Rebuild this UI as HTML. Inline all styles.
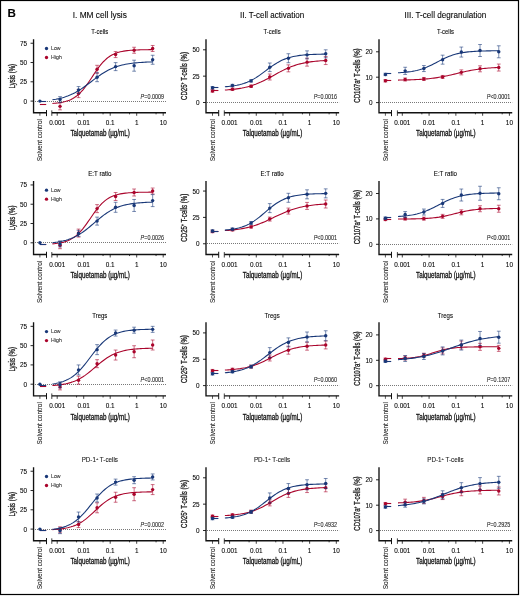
<!DOCTYPE html>
<html><head><meta charset="utf-8"><style>
html,body{margin:0;padding:0;background:#fff;}
body{width:520px;height:596px;overflow:hidden;}
svg{display:block;font-family:"Liberation Sans",sans-serif;will-change:transform;}
svg text{stroke:#222;stroke-width:0.1px;}
svg text.h{stroke-width:0.3px;}
svg text.l{stroke-width:0.08px;}
</style></head><body>
<svg width="520" height="596" viewBox="0 0 520 596">
<rect x="0" y="0" width="520" height="596" fill="#fff"/>
<rect x="0.5" y="0.5" width="518" height="594" fill="none" stroke="#000" stroke-width="1.2"/>
<text x="7.6" y="17.1" font-size="11.6" font-weight="bold" fill="#000">B</text>
<text x="99.8" y="17.7" font-size="8.3" text-anchor="middle" textLength="54.2" lengthAdjust="spacingAndGlyphs" >I. MM cell lysis</text>
<text x="272.1" y="17.7" font-size="8.3" text-anchor="middle" textLength="64.2" lengthAdjust="spacingAndGlyphs" >II. T-cell activation</text>
<text x="445.4" y="17.7" font-size="8.3" text-anchor="middle" textLength="81.8" lengthAdjust="spacingAndGlyphs" >III. T-cell degranulation</text>
<text x="99.8" y="34.4" font-size="6.5" text-anchor="middle" textLength="17" lengthAdjust="spacingAndGlyphs" >T-cells</text>
<line x1="35" y1="101.5" x2="166" y2="101.5" stroke="#555" stroke-width="0.8" stroke-dasharray="1 1"/>
<path d="M33.55 39.2V112.75H46.5" fill="none" stroke="#111" stroke-width="1.35"/>
<line x1="46.5" y1="110.05" x2="46.5" y2="116.15" stroke="#111" stroke-width="1"/>
<line x1="39.9" y1="112.75" x2="39.9" y2="115.75" stroke="#111" stroke-width="0.7"/>
<line x1="51.8" y1="112.75" x2="166" y2="112.75" stroke="#111" stroke-width="1.35"/>
<line x1="51.8" y1="110.35" x2="51.8" y2="115.85" stroke="#111" stroke-width="0.8"/>
<line x1="57.2" y1="112.75" x2="57.2" y2="115.75" stroke="#111" stroke-width="0.8"/>
<text x="57.2" y="124.9" font-size="6.4" text-anchor="middle" >0.001</text>
<line x1="76.55" y1="112.75" x2="76.55" y2="114.35" stroke="#111" stroke-width="0.8"/>
<line x1="83.7" y1="112.75" x2="83.7" y2="115.75" stroke="#111" stroke-width="0.8"/>
<text x="83.7" y="124.9" font-size="6.4" text-anchor="middle" >0.01</text>
<line x1="103.05" y1="112.75" x2="103.05" y2="114.35" stroke="#111" stroke-width="0.8"/>
<line x1="110.2" y1="112.75" x2="110.2" y2="115.75" stroke="#111" stroke-width="0.8"/>
<text x="110.2" y="124.9" font-size="6.4" text-anchor="middle" >0.1</text>
<line x1="129.55" y1="112.75" x2="129.55" y2="114.35" stroke="#111" stroke-width="0.8"/>
<line x1="136.7" y1="112.75" x2="136.7" y2="115.75" stroke="#111" stroke-width="0.8"/>
<text x="136.7" y="124.9" font-size="6.4" text-anchor="middle" >1</text>
<line x1="156.05" y1="112.75" x2="156.05" y2="114.35" stroke="#111" stroke-width="0.8"/>
<line x1="163.2" y1="112.75" x2="163.2" y2="115.75" stroke="#111" stroke-width="0.8"/>
<text x="163.2" y="124.9" font-size="6.4" text-anchor="middle" >10</text>
<line x1="30.55" y1="101.1" x2="33.55" y2="101.1" stroke="#111" stroke-width="0.9"/>
<text x="27.15" y="103.6" font-size="6.4" text-anchor="end" >0</text>
<line x1="30.55" y1="81.81" x2="33.55" y2="81.81" stroke="#111" stroke-width="0.9"/>
<text x="27.15" y="84.31" font-size="6.4" text-anchor="end" >25</text>
<line x1="30.55" y1="62.52" x2="33.55" y2="62.52" stroke="#111" stroke-width="0.9"/>
<text x="27.15" y="65.03" font-size="6.4" text-anchor="end" >50</text>
<line x1="30.55" y1="43.24" x2="33.55" y2="43.24" stroke="#111" stroke-width="0.9"/>
<text x="27.15" y="45.74" font-size="6.4" text-anchor="end" >75</text>
<text transform="translate(15 76.2) rotate(-90)" font-size="8.8" class="h" text-anchor="middle" textLength="24.6" lengthAdjust="spacingAndGlyphs" fill="#222">Lysis (%)</text>
<text transform="translate(42.1 140.2) rotate(-90)" font-size="6.6" text-anchor="middle" textLength="42.2" lengthAdjust="spacingAndGlyphs" fill="#222">Solvent control</text>
<text x="100.2" y="136.4" font-size="8.3" text-anchor="middle" textLength="59.5" lengthAdjust="spacingAndGlyphs" class="h">Talquetamab (µg/mL)</text>
<text x="164" y="98.7" font-size="6.5" class="l" text-anchor="end" textLength="23.4" lengthAdjust="spacingAndGlyphs" fill="#222"><tspan font-style="italic">P</tspan>=0.0009</text>
<circle cx="46.5" cy="48.5" r="1.65" fill="#193878"/>
<circle cx="46.5" cy="57.5" r="1.65" fill="#aa052c"/>
<text x="51.1" y="49.9" font-size="5.4" textLength="9.5" lengthAdjust="spacingAndGlyphs" fill="#333" class="l">Low</text>
<text x="51.1" y="58.9" font-size="5.4" textLength="10.8" lengthAdjust="spacingAndGlyphs" fill="#333" class="l">High</text>
<polyline points="52.4,103.45 54.1,103.32 55.8,103.17 57.5,102.98 59.2,102.76 60.9,102.49 62.6,102.17 64.29,101.79 65.99,101.33 67.69,100.79 69.39,100.15 71.09,99.4 72.79,98.52 74.49,97.5 76.19,96.32 77.89,94.96 79.59,93.43 81.29,91.7 82.99,89.79 84.69,87.7 86.38,85.44 88.08,83.04 89.78,80.54 91.48,77.97 93.18,75.38 94.88,72.82 96.58,70.33 98.28,67.94 99.98,65.7 101.68,63.63 103.38,61.74 105.08,60.04 106.78,58.53 108.47,57.19 110.17,56.03 111.87,55.03 113.57,54.16 115.27,53.42 116.97,52.8 118.67,52.27 120.37,51.82 122.07,51.45 123.77,51.13 125.47,50.87 127.17,50.65 128.87,50.47 130.56,50.32 132.26,50.19 133.96,50.09 135.66,50 137.36,49.93 139.06,49.87 140.76,49.82 142.46,49.78 144.16,49.74 145.86,49.72 147.56,49.69 149.26,49.67 150.96,49.66 152.65,49.64" fill="none" stroke="#aa052c" stroke-width="1.1"/>
<line x1="39.9" y1="104.5" x2="46.2" y2="104.5" stroke="#aa052c" stroke-width="1.1"/>
<path d="M60.04 102.85V109.85M58.14 102.85H61.94M58.14 109.85H61.94" stroke="#aa052c" stroke-width="0.8" fill="none" opacity="0.72"/>
<circle cx="60.04" cy="106.35" r="1.72" fill="#aa052c"/>
<path d="M78.56 89.62V97.62M76.66 89.62H80.46M76.66 97.62H80.46" stroke="#aa052c" stroke-width="0.8" fill="none" opacity="0.72"/>
<circle cx="78.56" cy="93.62" r="1.72" fill="#aa052c"/>
<path d="M97.09 65.31V73.31M95.19 65.31H98.99M95.19 73.31H98.99" stroke="#aa052c" stroke-width="0.8" fill="none" opacity="0.72"/>
<circle cx="97.09" cy="69.31" r="1.72" fill="#aa052c"/>
<path d="M115.61 51.58V57.58M113.71 51.58H117.51M113.71 57.58H117.51" stroke="#aa052c" stroke-width="0.8" fill="none" opacity="0.72"/>
<circle cx="115.61" cy="54.58" r="1.72" fill="#aa052c"/>
<path d="M134.13 47.26V53.26M132.23 47.26H136.03M132.23 53.26H136.03" stroke="#aa052c" stroke-width="0.8" fill="none" opacity="0.72"/>
<circle cx="134.13" cy="50.26" r="1.72" fill="#aa052c"/>
<path d="M152.65 45.48V51.48M150.75 45.48H154.55M150.75 51.48H154.55" stroke="#aa052c" stroke-width="0.8" fill="none" opacity="0.72"/>
<circle cx="152.65" cy="48.48" r="1.72" fill="#aa052c"/>
<polyline points="52.4,99.79 54.1,99.52 55.8,99.23 57.5,98.9 59.2,98.53 60.9,98.12 62.6,97.66 64.29,97.16 65.99,96.6 67.69,95.99 69.39,95.31 71.09,94.58 72.79,93.79 74.49,92.93 76.19,92.01 77.89,91.02 79.59,89.98 81.29,88.88 82.99,87.72 84.69,86.52 86.38,85.29 88.08,84.02 89.78,82.74 91.48,81.45 93.18,80.15 94.88,78.88 96.58,77.62 98.28,76.4 99.98,75.21 101.68,74.08 103.38,72.99 105.08,71.97 106.78,71.01 108.47,70.11 110.17,69.27 111.87,68.5 113.57,67.79 115.27,67.14 116.97,66.54 118.67,66.01 120.37,65.52 122.07,65.08 123.77,64.68 125.47,64.33 127.17,64.01 128.87,63.73 130.56,63.47 132.26,63.25 133.96,63.04 135.66,62.87 137.36,62.71 139.06,62.57 140.76,62.44 142.46,62.33 144.16,62.24 145.86,62.15 147.56,62.07 149.26,62.01 150.96,61.95 152.65,61.9" fill="none" stroke="#193878" stroke-width="1.1"/>
<line x1="39.9" y1="101.5" x2="46.2" y2="101.5" stroke="#193878" stroke-width="1.1"/>
<circle cx="39.9" cy="101.1" r="1.72" fill="#193878"/>
<path d="M60.04 96.66V102.46M58.14 96.66H61.94M58.14 102.46H61.94" stroke="#193878" stroke-width="0.8" fill="none" opacity="0.72"/>
<circle cx="60.04" cy="99.56" r="1.72" fill="#193878"/>
<path d="M78.56 86.57V93.57M76.66 86.57H80.46M76.66 93.57H80.46" stroke="#193878" stroke-width="0.8" fill="none" opacity="0.72"/>
<circle cx="78.56" cy="90.07" r="1.72" fill="#193878"/>
<path d="M97.09 72.68V81.68M95.19 72.68H98.99M95.19 81.68H98.99" stroke="#193878" stroke-width="0.8" fill="none" opacity="0.72"/>
<circle cx="97.09" cy="77.18" r="1.72" fill="#193878"/>
<path d="M115.61 62.61V70.61M113.71 62.61H117.51M113.71 70.61H117.51" stroke="#193878" stroke-width="0.8" fill="none" opacity="0.72"/>
<circle cx="115.61" cy="66.61" r="1.72" fill="#193878"/>
<path d="M134.13 60.19V71.19M132.23 60.19H136.03M132.23 71.19H136.03" stroke="#193878" stroke-width="0.8" fill="none" opacity="0.72"/>
<circle cx="134.13" cy="65.69" r="1.72" fill="#193878"/>
<path d="M152.65 55.25V64.25M150.75 55.25H154.55M150.75 64.25H154.55" stroke="#193878" stroke-width="0.8" fill="none" opacity="0.72"/>
<circle cx="152.65" cy="59.75" r="1.72" fill="#193878"/>
<text x="272.1" y="34.4" font-size="6.5" text-anchor="middle" textLength="17" lengthAdjust="spacingAndGlyphs" >T-cells</text>
<line x1="207" y1="102.5" x2="339.12" y2="102.5" stroke="#555" stroke-width="0.8" stroke-dasharray="1 1"/>
<path d="M206 39.2V112.75H218.7" fill="none" stroke="#111" stroke-width="1.35"/>
<line x1="218.7" y1="110.05" x2="218.7" y2="116.15" stroke="#111" stroke-width="1"/>
<line x1="212.5" y1="112.75" x2="212.5" y2="115.75" stroke="#111" stroke-width="0.7"/>
<line x1="224.3" y1="112.75" x2="339.12" y2="112.75" stroke="#111" stroke-width="1.35"/>
<line x1="224.3" y1="110.35" x2="224.3" y2="115.85" stroke="#111" stroke-width="0.8"/>
<line x1="229.6" y1="112.75" x2="229.6" y2="115.75" stroke="#111" stroke-width="0.8"/>
<text x="229.6" y="124.9" font-size="6.4" text-anchor="middle" >0.001</text>
<line x1="249.08" y1="112.75" x2="249.08" y2="114.35" stroke="#111" stroke-width="0.8"/>
<line x1="256.28" y1="112.75" x2="256.28" y2="115.75" stroke="#111" stroke-width="0.8"/>
<text x="256.28" y="124.9" font-size="6.4" text-anchor="middle" >0.01</text>
<line x1="275.76" y1="112.75" x2="275.76" y2="114.35" stroke="#111" stroke-width="0.8"/>
<line x1="282.96" y1="112.75" x2="282.96" y2="115.75" stroke="#111" stroke-width="0.8"/>
<text x="282.96" y="124.9" font-size="6.4" text-anchor="middle" >0.1</text>
<line x1="302.44" y1="112.75" x2="302.44" y2="114.35" stroke="#111" stroke-width="0.8"/>
<line x1="309.64" y1="112.75" x2="309.64" y2="115.75" stroke="#111" stroke-width="0.8"/>
<text x="309.64" y="124.9" font-size="6.4" text-anchor="middle" >1</text>
<line x1="329.12" y1="112.75" x2="329.12" y2="114.35" stroke="#111" stroke-width="0.8"/>
<line x1="336.32" y1="112.75" x2="336.32" y2="115.75" stroke="#111" stroke-width="0.8"/>
<text x="336.32" y="124.9" font-size="6.4" text-anchor="middle" >10</text>
<line x1="203" y1="102.5" x2="206" y2="102.5" stroke="#111" stroke-width="0.9"/>
<text x="199.6" y="105" font-size="6.4" text-anchor="end" >0</text>
<line x1="203" y1="76.15" x2="206" y2="76.15" stroke="#111" stroke-width="0.9"/>
<text x="199.6" y="78.65" font-size="6.4" text-anchor="end" >25</text>
<line x1="203" y1="49.8" x2="206" y2="49.8" stroke="#111" stroke-width="0.9"/>
<text x="199.6" y="52.3" font-size="6.4" text-anchor="end" >50</text>
<text transform="translate(187 76) rotate(-90)" font-size="8.6" class="h" text-anchor="middle" textLength="48" lengthAdjust="spacingAndGlyphs" fill="#222">CD25<tspan dy="-2.6" font-size="4.6">+</tspan><tspan dy="2.6"> T-cells (%)</tspan></text>
<text transform="translate(214.7 140.2) rotate(-90)" font-size="6.6" text-anchor="middle" textLength="42.2" lengthAdjust="spacingAndGlyphs" fill="#222">Solvent control</text>
<text x="272.5" y="136.4" font-size="8.3" text-anchor="middle" textLength="59.5" lengthAdjust="spacingAndGlyphs" class="h">Talquetamab (µg/mL)</text>
<text x="337.12" y="98.7" font-size="6.5" class="l" text-anchor="end" textLength="23.4" lengthAdjust="spacingAndGlyphs" fill="#222"><tspan font-style="italic">P</tspan>=0.0016</text>
<polyline points="224.9,90.06 226.61,89.95 228.32,89.82 230.03,89.67 231.73,89.5 233.44,89.32 235.15,89.12 236.86,88.89 238.57,88.64 240.28,88.36 241.99,88.05 243.69,87.7 245.4,87.33 247.11,86.91 248.82,86.46 250.53,85.97 252.24,85.43 253.94,84.85 255.65,84.23 257.36,83.56 259.07,82.85 260.78,82.1 262.49,81.3 264.2,80.47 265.9,79.6 267.61,78.71 269.32,77.79 271.03,76.85 272.74,75.9 274.45,74.95 276.16,74 277.86,73.07 279.57,72.14 281.28,71.25 282.99,70.38 284.7,69.54 286.41,68.74 288.12,67.98 289.82,67.26 291.53,66.59 293.24,65.96 294.95,65.38 296.66,64.84 298.37,64.34 300.08,63.89 301.78,63.47 303.49,63.09 305.2,62.74 306.91,62.43 308.62,62.15 310.33,61.89 312.03,61.66 313.74,61.45 315.45,61.27 317.16,61.1 318.87,60.95 320.58,60.82 322.29,60.7 323.99,60.6 325.7,60.5" fill="none" stroke="#aa052c" stroke-width="1.1"/>
<line x1="212.5" y1="90.5" x2="218.4" y2="90.5" stroke="#aa052c" stroke-width="1.1"/>
<path d="M212.5 89.71V92.11M210.6 89.71H214.4M210.6 92.11H214.4" stroke="#aa052c" stroke-width="0.8" fill="none" opacity="0.72"/>
<circle cx="212.5" cy="90.91" r="1.72" fill="#aa052c"/>
<path d="M232.46 88.12V90.53M230.56 88.12H234.36M230.56 90.53H234.36" stroke="#aa052c" stroke-width="0.8" fill="none" opacity="0.72"/>
<circle cx="232.46" cy="89.33" r="1.72" fill="#aa052c"/>
<path d="M251.11 85.07V87.47M249.21 85.07H253.01M249.21 87.47H253.01" stroke="#aa052c" stroke-width="0.8" fill="none" opacity="0.72"/>
<circle cx="251.11" cy="86.27" r="1.72" fill="#aa052c"/>
<path d="M269.76 73.99V79.99M267.86 73.99H271.66M267.86 79.99H271.66" stroke="#aa052c" stroke-width="0.8" fill="none" opacity="0.72"/>
<circle cx="269.76" cy="76.99" r="1.72" fill="#aa052c"/>
<path d="M288.41 64.85V71.85M286.51 64.85H290.31M286.51 71.85H290.31" stroke="#aa052c" stroke-width="0.8" fill="none" opacity="0.72"/>
<circle cx="288.41" cy="68.35" r="1.72" fill="#aa052c"/>
<path d="M307.05 58.13V66.13M305.15 58.13H308.95M305.15 66.13H308.95" stroke="#aa052c" stroke-width="0.8" fill="none" opacity="0.72"/>
<circle cx="307.05" cy="62.13" r="1.72" fill="#aa052c"/>
<path d="M325.7 56.55V64.55M323.8 56.55H327.6M323.8 64.55H327.6" stroke="#aa052c" stroke-width="0.8" fill="none" opacity="0.72"/>
<circle cx="325.7" cy="60.55" r="1.72" fill="#aa052c"/>
<polyline points="224.9,86.74 226.61,86.6 228.32,86.45 230.03,86.26 231.73,86.05 233.44,85.81 235.15,85.54 236.86,85.22 238.57,84.86 240.28,84.45 241.99,83.99 243.69,83.47 245.4,82.88 247.11,82.22 248.82,81.5 250.53,80.7 252.24,79.82 253.94,78.87 255.65,77.85 257.36,76.75 259.07,75.6 260.78,74.4 262.49,73.15 264.2,71.88 265.9,70.59 267.61,69.31 269.32,68.04 271.03,66.81 272.74,65.62 274.45,64.48 276.16,63.41 277.86,62.4 279.57,61.47 281.28,60.61 282.99,59.83 284.7,59.13 286.41,58.49 288.12,57.92 289.82,57.42 291.53,56.97 293.24,56.57 294.95,56.22 296.66,55.92 298.37,55.65 300.08,55.42 301.78,55.22 303.49,55.04 305.2,54.89 306.91,54.76 308.62,54.65 310.33,54.55 312.03,54.46 313.74,54.39 315.45,54.33 317.16,54.27 318.87,54.23 320.58,54.19 322.29,54.15 323.99,54.12 325.7,54.1" fill="none" stroke="#193878" stroke-width="1.1"/>
<line x1="212.5" y1="87.5" x2="218.4" y2="87.5" stroke="#193878" stroke-width="1.1"/>
<path d="M212.5 86.54V88.94M210.6 86.54H214.4M210.6 88.94H214.4" stroke="#193878" stroke-width="0.8" fill="none" opacity="0.72"/>
<circle cx="212.5" cy="87.74" r="1.72" fill="#193878"/>
<path d="M232.46 84.33V86.73M230.56 84.33H234.36M230.56 86.73H234.36" stroke="#193878" stroke-width="0.8" fill="none" opacity="0.72"/>
<circle cx="232.46" cy="85.53" r="1.72" fill="#193878"/>
<path d="M251.11 79.69V82.09M249.21 79.69H253.01M249.21 82.09H253.01" stroke="#193878" stroke-width="0.8" fill="none" opacity="0.72"/>
<circle cx="251.11" cy="80.89" r="1.72" fill="#193878"/>
<path d="M269.76 63V71.6M267.86 63H271.66M267.86 71.6H271.66" stroke="#193878" stroke-width="0.8" fill="none" opacity="0.72"/>
<circle cx="269.76" cy="67.3" r="1.72" fill="#193878"/>
<path d="M288.41 53.73V62.73M286.51 53.73H290.31M286.51 62.73H290.31" stroke="#193878" stroke-width="0.8" fill="none" opacity="0.72"/>
<circle cx="288.41" cy="58.23" r="1.72" fill="#193878"/>
<path d="M307.05 50.86V58.86M305.15 50.86H308.95M305.15 58.86H308.95" stroke="#193878" stroke-width="0.8" fill="none" opacity="0.72"/>
<circle cx="307.05" cy="54.86" r="1.72" fill="#193878"/>
<path d="M325.7 49.81V57.81M323.8 49.81H327.6M323.8 57.81H327.6" stroke="#193878" stroke-width="0.8" fill="none" opacity="0.72"/>
<circle cx="325.7" cy="53.81" r="1.72" fill="#193878"/>
<text x="445.4" y="34.4" font-size="6.5" text-anchor="middle" textLength="17" lengthAdjust="spacingAndGlyphs" >T-cells</text>
<line x1="380" y1="102.5" x2="512.22" y2="102.5" stroke="#555" stroke-width="0.8" stroke-dasharray="1 1"/>
<path d="M379 39.2V112.75H391.5" fill="none" stroke="#111" stroke-width="1.35"/>
<line x1="391.5" y1="110.05" x2="391.5" y2="116.15" stroke="#111" stroke-width="1"/>
<line x1="385.4" y1="112.75" x2="385.4" y2="115.75" stroke="#111" stroke-width="0.7"/>
<line x1="397.4" y1="112.75" x2="512.22" y2="112.75" stroke="#111" stroke-width="1.35"/>
<line x1="397.4" y1="110.35" x2="397.4" y2="115.85" stroke="#111" stroke-width="0.8"/>
<line x1="402.3" y1="112.75" x2="402.3" y2="115.75" stroke="#111" stroke-width="0.8"/>
<text x="402.3" y="124.9" font-size="6.4" text-anchor="middle" >0.001</text>
<line x1="421.85" y1="112.75" x2="421.85" y2="114.35" stroke="#111" stroke-width="0.8"/>
<line x1="429.08" y1="112.75" x2="429.08" y2="115.75" stroke="#111" stroke-width="0.8"/>
<text x="429.08" y="124.9" font-size="6.4" text-anchor="middle" >0.01</text>
<line x1="448.63" y1="112.75" x2="448.63" y2="114.35" stroke="#111" stroke-width="0.8"/>
<line x1="455.86" y1="112.75" x2="455.86" y2="115.75" stroke="#111" stroke-width="0.8"/>
<text x="455.86" y="124.9" font-size="6.4" text-anchor="middle" >0.1</text>
<line x1="475.41" y1="112.75" x2="475.41" y2="114.35" stroke="#111" stroke-width="0.8"/>
<line x1="482.64" y1="112.75" x2="482.64" y2="115.75" stroke="#111" stroke-width="0.8"/>
<text x="482.64" y="124.9" font-size="6.4" text-anchor="middle" >1</text>
<line x1="502.19" y1="112.75" x2="502.19" y2="114.35" stroke="#111" stroke-width="0.8"/>
<line x1="509.42" y1="112.75" x2="509.42" y2="115.75" stroke="#111" stroke-width="0.8"/>
<text x="509.42" y="124.9" font-size="6.4" text-anchor="middle" >10</text>
<line x1="376" y1="102.6" x2="379" y2="102.6" stroke="#111" stroke-width="0.9"/>
<text x="372.6" y="105.1" font-size="6.4" text-anchor="end" >0</text>
<line x1="376" y1="77.2" x2="379" y2="77.2" stroke="#111" stroke-width="0.9"/>
<text x="372.6" y="79.7" font-size="6.4" text-anchor="end" >10</text>
<line x1="376" y1="51.8" x2="379" y2="51.8" stroke="#111" stroke-width="0.9"/>
<text x="372.6" y="54.3" font-size="6.4" text-anchor="end" >20</text>
<text transform="translate(360 75.5) rotate(-90)" font-size="8.6" class="h" text-anchor="middle" textLength="54.3" lengthAdjust="spacingAndGlyphs" fill="#222">CD107a<tspan dy="-2.6" font-size="4.6">+</tspan><tspan dy="2.6"> T-cells (%)</tspan></text>
<text transform="translate(387.6 140.2) rotate(-90)" font-size="6.6" text-anchor="middle" textLength="42.2" lengthAdjust="spacingAndGlyphs" fill="#222">Solvent control</text>
<text x="445.8" y="136.4" font-size="8.3" text-anchor="middle" textLength="59.5" lengthAdjust="spacingAndGlyphs" class="h">Talquetamab (µg/mL)</text>
<text x="510.22" y="98.7" font-size="6.5" class="l" text-anchor="end" textLength="23.4" lengthAdjust="spacingAndGlyphs" fill="#222"><tspan font-style="italic">P</tspan><0.0001</text>
<polyline points="398,80.1 399.71,80.07 401.42,80.05 403.12,80.01 404.83,79.98 406.54,79.94 408.25,79.89 409.95,79.84 411.66,79.78 413.37,79.72 415.08,79.65 416.79,79.57 418.49,79.48 420.2,79.38 421.91,79.27 423.62,79.14 425.33,79.01 427.03,78.86 428.74,78.69 430.45,78.51 432.16,78.31 433.86,78.1 435.57,77.86 437.28,77.61 438.99,77.33 440.7,77.04 442.4,76.73 444.11,76.4 445.82,76.05 447.53,75.69 449.24,75.31 450.94,74.92 452.65,74.52 454.36,74.11 456.07,73.7 457.77,73.28 459.48,72.87 461.19,72.47 462.9,72.07 464.61,71.68 466.31,71.31 468.02,70.95 469.73,70.61 471.44,70.28 473.15,69.98 474.85,69.69 476.56,69.43 478.27,69.18 479.98,68.95 481.68,68.74 483.39,68.55 485.1,68.37 486.81,68.21 488.52,68.06 490.22,67.93 491.93,67.81 493.64,67.71 495.35,67.61 497.06,67.52 498.76,67.45" fill="none" stroke="#aa052c" stroke-width="1.1"/>
<line x1="385.4" y1="80.5" x2="391.2" y2="80.5" stroke="#aa052c" stroke-width="1.1"/>
<path d="M385.4 79.56V81.96M383.5 79.56H387.3M383.5 81.96H387.3" stroke="#aa052c" stroke-width="0.8" fill="none" opacity="0.72"/>
<circle cx="385.4" cy="80.76" r="1.72" fill="#aa052c"/>
<path d="M405.17 77.99V80.99M403.27 77.99H407.07M403.27 80.99H407.07" stroke="#aa052c" stroke-width="0.8" fill="none" opacity="0.72"/>
<circle cx="405.17" cy="79.49" r="1.72" fill="#aa052c"/>
<path d="M423.89 77.48V80.48M421.99 77.48H425.79M421.99 80.48H425.79" stroke="#aa052c" stroke-width="0.8" fill="none" opacity="0.72"/>
<circle cx="423.89" cy="78.98" r="1.72" fill="#aa052c"/>
<path d="M442.61 75.45V78.45M440.71 75.45H444.51M440.71 78.45H444.51" stroke="#aa052c" stroke-width="0.8" fill="none" opacity="0.72"/>
<circle cx="442.61" cy="76.95" r="1.72" fill="#aa052c"/>
<path d="M461.33 69.87V74.87M459.43 69.87H463.23M459.43 74.87H463.23" stroke="#aa052c" stroke-width="0.8" fill="none" opacity="0.72"/>
<circle cx="461.33" cy="72.37" r="1.72" fill="#aa052c"/>
<path d="M480.04 65.82V71.82M478.14 65.82H481.94M478.14 71.82H481.94" stroke="#aa052c" stroke-width="0.8" fill="none" opacity="0.72"/>
<circle cx="480.04" cy="68.82" r="1.72" fill="#aa052c"/>
<path d="M498.76 64.05V71.05M496.86 64.05H500.66M496.86 71.05H500.66" stroke="#aa052c" stroke-width="0.8" fill="none" opacity="0.72"/>
<circle cx="498.76" cy="67.55" r="1.72" fill="#aa052c"/>
<polyline points="398,72.77 399.71,72.68 401.42,72.57 403.12,72.44 404.83,72.29 406.54,72.12 408.25,71.92 409.95,71.7 411.66,71.44 413.37,71.14 415.08,70.8 416.79,70.42 418.49,69.99 420.2,69.51 421.91,68.98 423.62,68.39 425.33,67.75 427.03,67.05 428.74,66.3 430.45,65.51 432.16,64.68 433.86,63.81 435.57,62.92 437.28,62.03 438.99,61.13 440.7,60.24 442.4,59.37 444.11,58.54 445.82,57.74 447.53,56.99 449.24,56.3 450.94,55.65 452.65,55.06 454.36,54.53 456.07,54.04 457.77,53.61 459.48,53.23 461.19,52.89 462.9,52.59 464.61,52.33 466.31,52.11 468.02,51.91 469.73,51.73 471.44,51.59 473.15,51.46 474.85,51.35 476.56,51.25 478.27,51.17 479.98,51.1 481.68,51.04 483.39,50.98 485.1,50.94 486.81,50.9 488.52,50.87 490.22,50.84 491.93,50.82 493.64,50.8 495.35,50.78 497.06,50.76 498.76,50.75" fill="none" stroke="#193878" stroke-width="1.1"/>
<line x1="385.4" y1="73.5" x2="391.2" y2="73.5" stroke="#193878" stroke-width="1.1"/>
<path d="M385.4 73.21V75.61M383.5 73.21H387.3M383.5 75.61H387.3" stroke="#193878" stroke-width="0.8" fill="none" opacity="0.72"/>
<circle cx="385.4" cy="74.41" r="1.72" fill="#193878"/>
<path d="M405.17 67.25V74.45M403.27 67.25H407.07M403.27 74.45H407.07" stroke="#193878" stroke-width="0.8" fill="none" opacity="0.72"/>
<circle cx="405.17" cy="70.85" r="1.72" fill="#193878"/>
<path d="M423.89 65.56V71.56M421.99 65.56H425.79M421.99 71.56H425.79" stroke="#193878" stroke-width="0.8" fill="none" opacity="0.72"/>
<circle cx="423.89" cy="68.56" r="1.72" fill="#193878"/>
<path d="M442.61 55.17V64.17M440.71 55.17H444.51M440.71 64.17H444.51" stroke="#193878" stroke-width="0.8" fill="none" opacity="0.72"/>
<circle cx="442.61" cy="59.67" r="1.72" fill="#193878"/>
<path d="M461.33 47.05V57.05M459.43 47.05H463.23M459.43 57.05H463.23" stroke="#193878" stroke-width="0.8" fill="none" opacity="0.72"/>
<circle cx="461.33" cy="52.05" r="1.72" fill="#193878"/>
<path d="M480.04 44.53V56.53M478.14 44.53H481.94M478.14 56.53H481.94" stroke="#193878" stroke-width="0.8" fill="none" opacity="0.72"/>
<circle cx="480.04" cy="50.53" r="1.72" fill="#193878"/>
<path d="M498.76 45.8V57.8M496.86 45.8H500.66M496.86 57.8H500.66" stroke="#193878" stroke-width="0.8" fill="none" opacity="0.72"/>
<circle cx="498.76" cy="51.8" r="1.72" fill="#193878"/>
<text x="99.8" y="176.1" font-size="6.5" text-anchor="middle" textLength="23.3" lengthAdjust="spacingAndGlyphs" >E:T ratio</text>
<line x1="35" y1="242.5" x2="166" y2="242.5" stroke="#555" stroke-width="0.8" stroke-dasharray="1 1"/>
<path d="M33.55 180.9V254.45H46.5" fill="none" stroke="#111" stroke-width="1.35"/>
<line x1="46.5" y1="251.75" x2="46.5" y2="257.85" stroke="#111" stroke-width="1"/>
<line x1="39.9" y1="254.45" x2="39.9" y2="257.45" stroke="#111" stroke-width="0.7"/>
<line x1="51.8" y1="254.45" x2="166" y2="254.45" stroke="#111" stroke-width="1.35"/>
<line x1="51.8" y1="252.05" x2="51.8" y2="257.55" stroke="#111" stroke-width="0.8"/>
<line x1="57.2" y1="254.45" x2="57.2" y2="257.45" stroke="#111" stroke-width="0.8"/>
<text x="57.2" y="266.6" font-size="6.4" text-anchor="middle" >0.001</text>
<line x1="76.55" y1="254.45" x2="76.55" y2="256.05" stroke="#111" stroke-width="0.8"/>
<line x1="83.7" y1="254.45" x2="83.7" y2="257.45" stroke="#111" stroke-width="0.8"/>
<text x="83.7" y="266.6" font-size="6.4" text-anchor="middle" >0.01</text>
<line x1="103.05" y1="254.45" x2="103.05" y2="256.05" stroke="#111" stroke-width="0.8"/>
<line x1="110.2" y1="254.45" x2="110.2" y2="257.45" stroke="#111" stroke-width="0.8"/>
<text x="110.2" y="266.6" font-size="6.4" text-anchor="middle" >0.1</text>
<line x1="129.55" y1="254.45" x2="129.55" y2="256.05" stroke="#111" stroke-width="0.8"/>
<line x1="136.7" y1="254.45" x2="136.7" y2="257.45" stroke="#111" stroke-width="0.8"/>
<text x="136.7" y="266.6" font-size="6.4" text-anchor="middle" >1</text>
<line x1="156.05" y1="254.45" x2="156.05" y2="256.05" stroke="#111" stroke-width="0.8"/>
<line x1="163.2" y1="254.45" x2="163.2" y2="257.45" stroke="#111" stroke-width="0.8"/>
<text x="163.2" y="266.6" font-size="6.4" text-anchor="middle" >10</text>
<line x1="30.55" y1="242.8" x2="33.55" y2="242.8" stroke="#111" stroke-width="0.9"/>
<text x="27.15" y="245.3" font-size="6.4" text-anchor="end" >0</text>
<line x1="30.55" y1="223.51" x2="33.55" y2="223.51" stroke="#111" stroke-width="0.9"/>
<text x="27.15" y="226.01" font-size="6.4" text-anchor="end" >25</text>
<line x1="30.55" y1="204.22" x2="33.55" y2="204.22" stroke="#111" stroke-width="0.9"/>
<text x="27.15" y="206.72" font-size="6.4" text-anchor="end" >50</text>
<line x1="30.55" y1="184.94" x2="33.55" y2="184.94" stroke="#111" stroke-width="0.9"/>
<text x="27.15" y="187.44" font-size="6.4" text-anchor="end" >75</text>
<text transform="translate(15 217.9) rotate(-90)" font-size="8.8" class="h" text-anchor="middle" textLength="24.6" lengthAdjust="spacingAndGlyphs" fill="#222">Lysis (%)</text>
<text transform="translate(42.1 281.9) rotate(-90)" font-size="6.6" text-anchor="middle" textLength="42.2" lengthAdjust="spacingAndGlyphs" fill="#222">Solvent control</text>
<text x="100.2" y="278.1" font-size="8.3" text-anchor="middle" textLength="59.5" lengthAdjust="spacingAndGlyphs" class="h">Talquetamab (µg/mL)</text>
<text x="164" y="240.4" font-size="6.5" class="l" text-anchor="end" textLength="23.4" lengthAdjust="spacingAndGlyphs" fill="#222"><tspan font-style="italic">P</tspan>=0.0026</text>
<circle cx="46.5" cy="190.2" r="1.65" fill="#193878"/>
<circle cx="46.5" cy="199.2" r="1.65" fill="#aa052c"/>
<text x="51.1" y="191.6" font-size="5.4" textLength="9.5" lengthAdjust="spacingAndGlyphs" fill="#333" class="l">Low</text>
<text x="51.1" y="200.6" font-size="5.4" textLength="10.8" lengthAdjust="spacingAndGlyphs" fill="#333" class="l">High</text>
<polyline points="52.4,243.88 54.1,243.73 55.8,243.54 57.5,243.32 59.2,243.05 60.9,242.74 62.6,242.36 64.29,241.91 65.99,241.37 67.69,240.74 69.39,240 71.09,239.14 72.79,238.14 74.49,236.98 76.19,235.66 77.89,234.16 79.59,232.48 81.29,230.62 82.99,228.59 84.69,226.41 86.38,224.1 88.08,221.69 89.78,219.22 91.48,216.74 93.18,214.29 94.88,211.9 96.58,209.63 98.28,207.49 99.98,205.51 101.68,203.71 103.38,202.09 105.08,200.65 106.78,199.38 108.47,198.27 110.17,197.31 111.87,196.48 113.57,195.78 115.27,195.18 116.97,194.68 118.67,194.25 120.37,193.89 122.07,193.59 123.77,193.34 125.47,193.13 127.17,192.95 128.87,192.8 130.56,192.68 132.26,192.58 133.96,192.5 135.66,192.43 137.36,192.37 139.06,192.32 140.76,192.28 142.46,192.25 144.16,192.22 145.86,192.2 147.56,192.18 149.26,192.17 150.96,192.15 152.65,192.14" fill="none" stroke="#aa052c" stroke-width="1.1"/>
<line x1="39.9" y1="244.5" x2="46.2" y2="244.5" stroke="#aa052c" stroke-width="1.1"/>
<path d="M60.04 241.69V248.69M58.14 241.69H61.94M58.14 248.69H61.94" stroke="#aa052c" stroke-width="0.8" fill="none" opacity="0.72"/>
<circle cx="60.04" cy="245.19" r="1.72" fill="#aa052c"/>
<path d="M78.56 229.08V237.08M76.66 229.08H80.46M76.66 237.08H80.46" stroke="#aa052c" stroke-width="0.8" fill="none" opacity="0.72"/>
<circle cx="78.56" cy="233.08" r="1.72" fill="#aa052c"/>
<path d="M97.09 204.62V212.62M95.19 204.62H98.99M95.19 212.62H98.99" stroke="#aa052c" stroke-width="0.8" fill="none" opacity="0.72"/>
<circle cx="97.09" cy="208.62" r="1.72" fill="#aa052c"/>
<path d="M115.61 192.51V200.51M113.71 192.51H117.51M113.71 200.51H117.51" stroke="#aa052c" stroke-width="0.8" fill="none" opacity="0.72"/>
<circle cx="115.61" cy="196.51" r="1.72" fill="#aa052c"/>
<path d="M134.13 189V196M132.23 189H136.03M132.23 196H136.03" stroke="#aa052c" stroke-width="0.8" fill="none" opacity="0.72"/>
<circle cx="134.13" cy="192.5" r="1.72" fill="#aa052c"/>
<path d="M152.65 188.03V194.03M150.75 188.03H154.55M150.75 194.03H154.55" stroke="#aa052c" stroke-width="0.8" fill="none" opacity="0.72"/>
<circle cx="152.65" cy="191.03" r="1.72" fill="#aa052c"/>
<polyline points="52.4,242.7 54.1,242.5 55.8,242.28 57.5,242.03 59.2,241.74 60.9,241.42 62.6,241.06 64.29,240.65 65.99,240.19 67.69,239.67 69.39,239.1 71.09,238.46 72.79,237.75 74.49,236.98 76.19,236.12 77.89,235.2 79.59,234.19 81.29,233.11 82.99,231.95 84.69,230.73 86.38,229.44 88.08,228.09 89.78,226.7 91.48,225.28 93.18,223.83 94.88,222.37 96.58,220.92 98.28,219.49 99.98,218.09 101.68,216.73 103.38,215.42 105.08,214.18 106.78,213.01 108.47,211.91 110.17,210.88 111.87,209.94 113.57,209.06 115.27,208.27 116.97,207.54 118.67,206.89 120.37,206.3 122.07,205.77 123.77,205.3 125.47,204.87 127.17,204.5 128.87,204.17 130.56,203.87 132.26,203.61 133.96,203.38 135.66,203.18 137.36,203 139.06,202.84 140.76,202.71 142.46,202.59 144.16,202.48 145.86,202.39 147.56,202.31 149.26,202.24 150.96,202.18 152.65,202.12" fill="none" stroke="#193878" stroke-width="1.1"/>
<line x1="39.9" y1="244.5" x2="46.2" y2="244.5" stroke="#193878" stroke-width="1.1"/>
<circle cx="39.9" cy="242.8" r="1.72" fill="#193878"/>
<path d="M60.04 240.88V246.88M58.14 240.88H61.94M58.14 246.88H61.94" stroke="#193878" stroke-width="0.8" fill="none" opacity="0.72"/>
<circle cx="60.04" cy="243.88" r="1.72" fill="#193878"/>
<path d="M78.56 230.39V236.39M76.66 230.39H80.46M76.66 236.39H80.46" stroke="#193878" stroke-width="0.8" fill="none" opacity="0.72"/>
<circle cx="78.56" cy="233.39" r="1.72" fill="#193878"/>
<path d="M97.09 217.12V225.12M95.19 217.12H98.99M95.19 225.12H98.99" stroke="#193878" stroke-width="0.8" fill="none" opacity="0.72"/>
<circle cx="97.09" cy="221.12" r="1.72" fill="#193878"/>
<path d="M115.61 202.31V212.31M113.71 202.31H117.51M113.71 212.31H117.51" stroke="#193878" stroke-width="0.8" fill="none" opacity="0.72"/>
<circle cx="115.61" cy="207.31" r="1.72" fill="#193878"/>
<path d="M134.13 199.46V211.46M132.23 199.46H136.03M132.23 211.46H136.03" stroke="#193878" stroke-width="0.8" fill="none" opacity="0.72"/>
<circle cx="134.13" cy="205.46" r="1.72" fill="#193878"/>
<path d="M152.65 194.6V206.6M150.75 194.6H154.55M150.75 206.6H154.55" stroke="#193878" stroke-width="0.8" fill="none" opacity="0.72"/>
<circle cx="152.65" cy="200.6" r="1.72" fill="#193878"/>
<text x="272.1" y="176.1" font-size="6.5" text-anchor="middle" textLength="23.3" lengthAdjust="spacingAndGlyphs" >E:T ratio</text>
<line x1="207" y1="243.5" x2="339.12" y2="243.5" stroke="#555" stroke-width="0.8" stroke-dasharray="1 1"/>
<path d="M206 180.9V254.45H218.7" fill="none" stroke="#111" stroke-width="1.35"/>
<line x1="218.7" y1="251.75" x2="218.7" y2="257.85" stroke="#111" stroke-width="1"/>
<line x1="212.5" y1="254.45" x2="212.5" y2="257.45" stroke="#111" stroke-width="0.7"/>
<line x1="224.3" y1="254.45" x2="339.12" y2="254.45" stroke="#111" stroke-width="1.35"/>
<line x1="224.3" y1="252.05" x2="224.3" y2="257.55" stroke="#111" stroke-width="0.8"/>
<line x1="229.6" y1="254.45" x2="229.6" y2="257.45" stroke="#111" stroke-width="0.8"/>
<text x="229.6" y="266.6" font-size="6.4" text-anchor="middle" >0.001</text>
<line x1="249.08" y1="254.45" x2="249.08" y2="256.05" stroke="#111" stroke-width="0.8"/>
<line x1="256.28" y1="254.45" x2="256.28" y2="257.45" stroke="#111" stroke-width="0.8"/>
<text x="256.28" y="266.6" font-size="6.4" text-anchor="middle" >0.01</text>
<line x1="275.76" y1="254.45" x2="275.76" y2="256.05" stroke="#111" stroke-width="0.8"/>
<line x1="282.96" y1="254.45" x2="282.96" y2="257.45" stroke="#111" stroke-width="0.8"/>
<text x="282.96" y="266.6" font-size="6.4" text-anchor="middle" >0.1</text>
<line x1="302.44" y1="254.45" x2="302.44" y2="256.05" stroke="#111" stroke-width="0.8"/>
<line x1="309.64" y1="254.45" x2="309.64" y2="257.45" stroke="#111" stroke-width="0.8"/>
<text x="309.64" y="266.6" font-size="6.4" text-anchor="middle" >1</text>
<line x1="329.12" y1="254.45" x2="329.12" y2="256.05" stroke="#111" stroke-width="0.8"/>
<line x1="336.32" y1="254.45" x2="336.32" y2="257.45" stroke="#111" stroke-width="0.8"/>
<text x="336.32" y="266.6" font-size="6.4" text-anchor="middle" >10</text>
<line x1="203" y1="243.75" x2="206" y2="243.75" stroke="#111" stroke-width="0.9"/>
<text x="199.6" y="246.25" font-size="6.4" text-anchor="end" >0</text>
<line x1="203" y1="217.4" x2="206" y2="217.4" stroke="#111" stroke-width="0.9"/>
<text x="199.6" y="219.9" font-size="6.4" text-anchor="end" >25</text>
<line x1="203" y1="191.05" x2="206" y2="191.05" stroke="#111" stroke-width="0.9"/>
<text x="199.6" y="193.55" font-size="6.4" text-anchor="end" >50</text>
<text transform="translate(187 217.7) rotate(-90)" font-size="8.6" class="h" text-anchor="middle" textLength="48" lengthAdjust="spacingAndGlyphs" fill="#222">CD25<tspan dy="-2.6" font-size="4.6">+</tspan><tspan dy="2.6"> T-cells (%)</tspan></text>
<text transform="translate(214.7 281.9) rotate(-90)" font-size="6.6" text-anchor="middle" textLength="42.2" lengthAdjust="spacingAndGlyphs" fill="#222">Solvent control</text>
<text x="272.5" y="278.1" font-size="8.3" text-anchor="middle" textLength="59.5" lengthAdjust="spacingAndGlyphs" class="h">Talquetamab (µg/mL)</text>
<text x="337.12" y="240.4" font-size="6.5" class="l" text-anchor="end" textLength="23.4" lengthAdjust="spacingAndGlyphs" fill="#222"><tspan font-style="italic">P</tspan><0.0001</text>
<polyline points="224.9,230.57 226.61,230.46 228.32,230.33 230.03,230.19 231.73,230.03 233.44,229.85 235.15,229.66 236.86,229.44 238.57,229.21 240.28,228.94 241.99,228.65 243.69,228.34 245.4,227.99 247.11,227.61 248.82,227.2 250.53,226.76 252.24,226.27 253.94,225.76 255.65,225.2 257.36,224.61 259.07,223.98 260.78,223.32 262.49,222.62 264.2,221.9 265.9,221.14 267.61,220.36 269.32,219.57 271.03,218.76 272.74,217.94 274.45,217.11 276.16,216.29 277.86,215.48 279.57,214.67 281.28,213.89 282.99,213.13 284.7,212.39 286.41,211.69 288.12,211.01 289.82,210.38 291.53,209.77 293.24,209.21 294.95,208.68 296.66,208.19 298.37,207.73 300.08,207.31 301.78,206.92 303.49,206.56 305.2,206.24 306.91,205.94 308.62,205.67 310.33,205.43 312.03,205.21 313.74,205.01 315.45,204.82 317.16,204.66 318.87,204.51 320.58,204.38 322.29,204.26 323.99,204.16 325.7,204.06" fill="none" stroke="#aa052c" stroke-width="1.1"/>
<line x1="212.5" y1="231.5" x2="218.4" y2="231.5" stroke="#aa052c" stroke-width="1.1"/>
<path d="M212.5 230.32V232.72M210.6 230.32H214.4M210.6 232.72H214.4" stroke="#aa052c" stroke-width="0.8" fill="none" opacity="0.72"/>
<circle cx="212.5" cy="231.52" r="1.72" fill="#aa052c"/>
<path d="M232.46 228.64V231.04M230.56 228.64H234.36M230.56 231.04H234.36" stroke="#aa052c" stroke-width="0.8" fill="none" opacity="0.72"/>
<circle cx="232.46" cy="229.84" r="1.72" fill="#aa052c"/>
<path d="M251.11 225.69V228.09M249.21 225.69H253.01M249.21 228.09H253.01" stroke="#aa052c" stroke-width="0.8" fill="none" opacity="0.72"/>
<circle cx="251.11" cy="226.89" r="1.72" fill="#aa052c"/>
<path d="M269.76 217.09V221.09M267.86 217.09H271.66M267.86 221.09H271.66" stroke="#aa052c" stroke-width="0.8" fill="none" opacity="0.72"/>
<circle cx="269.76" cy="219.09" r="1.72" fill="#aa052c"/>
<path d="M288.41 208.08V214.08M286.51 208.08H290.31M286.51 214.08H290.31" stroke="#aa052c" stroke-width="0.8" fill="none" opacity="0.72"/>
<circle cx="288.41" cy="211.08" r="1.72" fill="#aa052c"/>
<path d="M307.05 202.41V209.41M305.15 202.41H308.95M305.15 209.41H308.95" stroke="#aa052c" stroke-width="0.8" fill="none" opacity="0.72"/>
<circle cx="307.05" cy="205.91" r="1.72" fill="#aa052c"/>
<path d="M325.7 200.01V208.01M323.8 200.01H327.6M323.8 208.01H327.6" stroke="#aa052c" stroke-width="0.8" fill="none" opacity="0.72"/>
<circle cx="325.7" cy="204.01" r="1.72" fill="#aa052c"/>
<polyline points="224.9,230.08 226.61,229.92 228.32,229.75 230.03,229.54 231.73,229.31 233.44,229.04 235.15,228.73 236.86,228.37 238.57,227.96 240.28,227.49 241.99,226.97 243.69,226.37 245.4,225.7 247.11,224.95 248.82,224.12 250.53,223.2 252.24,222.19 253.94,221.1 255.65,219.92 257.36,218.67 259.07,217.35 260.78,215.97 262.49,214.54 264.2,213.09 265.9,211.63 267.61,210.18 269.32,208.75 271.03,207.36 272.74,206.03 274.45,204.76 276.16,203.57 277.86,202.46 279.57,201.43 281.28,200.5 282.99,199.65 284.7,198.88 286.41,198.2 288.12,197.59 289.82,197.05 291.53,196.57 293.24,196.15 294.95,195.79 296.66,195.47 298.37,195.19 300.08,194.94 301.78,194.74 303.49,194.55 305.2,194.4 306.91,194.26 308.62,194.15 310.33,194.05 312.03,193.96 313.74,193.88 315.45,193.82 317.16,193.77 318.87,193.72 320.58,193.68 322.29,193.64 323.99,193.62 325.7,193.59" fill="none" stroke="#193878" stroke-width="1.1"/>
<line x1="212.5" y1="231.5" x2="218.4" y2="231.5" stroke="#193878" stroke-width="1.1"/>
<path d="M212.5 229.8V232.2M210.6 229.8H214.4M210.6 232.2H214.4" stroke="#193878" stroke-width="0.8" fill="none" opacity="0.72"/>
<circle cx="212.5" cy="231" r="1.72" fill="#193878"/>
<path d="M232.46 227.9V230.3M230.56 227.9H234.36M230.56 230.3H234.36" stroke="#193878" stroke-width="0.8" fill="none" opacity="0.72"/>
<circle cx="232.46" cy="229.1" r="1.72" fill="#193878"/>
<path d="M251.11 221.59V224.59M249.21 221.59H253.01M249.21 224.59H253.01" stroke="#193878" stroke-width="0.8" fill="none" opacity="0.72"/>
<circle cx="251.11" cy="223.09" r="1.72" fill="#193878"/>
<path d="M269.76 203.62V212.62M267.86 203.62H271.66M267.86 212.62H271.66" stroke="#193878" stroke-width="0.8" fill="none" opacity="0.72"/>
<circle cx="269.76" cy="208.12" r="1.72" fill="#193878"/>
<path d="M288.41 193.3V202.3M286.51 193.3H290.31M286.51 202.3H290.31" stroke="#193878" stroke-width="0.8" fill="none" opacity="0.72"/>
<circle cx="288.41" cy="197.8" r="1.72" fill="#193878"/>
<path d="M307.05 189.82V198.82M305.15 189.82H308.95M305.15 198.82H308.95" stroke="#193878" stroke-width="0.8" fill="none" opacity="0.72"/>
<circle cx="307.05" cy="194.32" r="1.72" fill="#193878"/>
<path d="M325.7 188.87V197.87M323.8 188.87H327.6M323.8 197.87H327.6" stroke="#193878" stroke-width="0.8" fill="none" opacity="0.72"/>
<circle cx="325.7" cy="193.37" r="1.72" fill="#193878"/>
<text x="445.4" y="176.1" font-size="6.5" text-anchor="middle" textLength="23.3" lengthAdjust="spacingAndGlyphs" >E:T ratio</text>
<line x1="380" y1="244.5" x2="512.22" y2="244.5" stroke="#555" stroke-width="0.8" stroke-dasharray="1 1"/>
<path d="M379 180.9V254.45H391.5" fill="none" stroke="#111" stroke-width="1.35"/>
<line x1="391.5" y1="251.75" x2="391.5" y2="257.85" stroke="#111" stroke-width="1"/>
<line x1="385.4" y1="254.45" x2="385.4" y2="257.45" stroke="#111" stroke-width="0.7"/>
<line x1="397.4" y1="254.45" x2="512.22" y2="254.45" stroke="#111" stroke-width="1.35"/>
<line x1="397.4" y1="252.05" x2="397.4" y2="257.55" stroke="#111" stroke-width="0.8"/>
<line x1="402.3" y1="254.45" x2="402.3" y2="257.45" stroke="#111" stroke-width="0.8"/>
<text x="402.3" y="266.6" font-size="6.4" text-anchor="middle" >0.001</text>
<line x1="421.85" y1="254.45" x2="421.85" y2="256.05" stroke="#111" stroke-width="0.8"/>
<line x1="429.08" y1="254.45" x2="429.08" y2="257.45" stroke="#111" stroke-width="0.8"/>
<text x="429.08" y="266.6" font-size="6.4" text-anchor="middle" >0.01</text>
<line x1="448.63" y1="254.45" x2="448.63" y2="256.05" stroke="#111" stroke-width="0.8"/>
<line x1="455.86" y1="254.45" x2="455.86" y2="257.45" stroke="#111" stroke-width="0.8"/>
<text x="455.86" y="266.6" font-size="6.4" text-anchor="middle" >0.1</text>
<line x1="475.41" y1="254.45" x2="475.41" y2="256.05" stroke="#111" stroke-width="0.8"/>
<line x1="482.64" y1="254.45" x2="482.64" y2="257.45" stroke="#111" stroke-width="0.8"/>
<text x="482.64" y="266.6" font-size="6.4" text-anchor="middle" >1</text>
<line x1="502.19" y1="254.45" x2="502.19" y2="256.05" stroke="#111" stroke-width="0.8"/>
<line x1="509.42" y1="254.45" x2="509.42" y2="257.45" stroke="#111" stroke-width="0.8"/>
<text x="509.42" y="266.6" font-size="6.4" text-anchor="middle" >10</text>
<line x1="376" y1="244.3" x2="379" y2="244.3" stroke="#111" stroke-width="0.9"/>
<text x="372.6" y="246.8" font-size="6.4" text-anchor="end" >0</text>
<line x1="376" y1="218.9" x2="379" y2="218.9" stroke="#111" stroke-width="0.9"/>
<text x="372.6" y="221.4" font-size="6.4" text-anchor="end" >10</text>
<line x1="376" y1="193.5" x2="379" y2="193.5" stroke="#111" stroke-width="0.9"/>
<text x="372.6" y="196" font-size="6.4" text-anchor="end" >20</text>
<text transform="translate(360 217.2) rotate(-90)" font-size="8.6" class="h" text-anchor="middle" textLength="54.3" lengthAdjust="spacingAndGlyphs" fill="#222">CD107a<tspan dy="-2.6" font-size="4.6">+</tspan><tspan dy="2.6"> T-cells (%)</tspan></text>
<text transform="translate(387.6 281.9) rotate(-90)" font-size="6.6" text-anchor="middle" textLength="42.2" lengthAdjust="spacingAndGlyphs" fill="#222">Solvent control</text>
<text x="445.8" y="278.1" font-size="8.3" text-anchor="middle" textLength="59.5" lengthAdjust="spacingAndGlyphs" class="h">Talquetamab (µg/mL)</text>
<text x="510.22" y="240.4" font-size="6.5" class="l" text-anchor="end" textLength="23.4" lengthAdjust="spacingAndGlyphs" fill="#222"><tspan font-style="italic">P</tspan><0.0001</text>
<polyline points="398,219.05 399.71,219.04 401.42,219.03 403.12,219.02 404.83,219 406.54,218.99 408.25,218.97 409.95,218.94 411.66,218.92 413.37,218.89 415.08,218.85 416.79,218.81 418.49,218.76 420.2,218.7 421.91,218.64 423.62,218.56 425.33,218.47 427.03,218.37 428.74,218.25 430.45,218.12 432.16,217.96 433.86,217.79 435.57,217.59 437.28,217.36 438.99,217.12 440.7,216.84 442.4,216.54 444.11,216.21 445.82,215.85 447.53,215.47 449.24,215.07 450.94,214.66 452.65,214.23 454.36,213.79 456.07,213.36 457.77,212.92 459.48,212.5 461.19,212.09 462.9,211.7 464.61,211.34 466.31,210.99 468.02,210.68 469.73,210.39 471.44,210.13 473.15,209.89 474.85,209.69 476.56,209.5 478.27,209.34 479.98,209.19 481.68,209.07 483.39,208.96 485.1,208.86 486.81,208.78 488.52,208.71 490.22,208.65 491.93,208.59 493.64,208.55 495.35,208.51 497.06,208.48 498.76,208.45" fill="none" stroke="#aa052c" stroke-width="1.1"/>
<line x1="385.4" y1="219.5" x2="391.2" y2="219.5" stroke="#aa052c" stroke-width="1.1"/>
<path d="M385.4 218.21V220.61M383.5 218.21H387.3M383.5 220.61H387.3" stroke="#aa052c" stroke-width="0.8" fill="none" opacity="0.72"/>
<circle cx="385.4" cy="219.41" r="1.72" fill="#aa052c"/>
<path d="M405.17 217.15V220.15M403.27 217.15H407.07M403.27 220.15H407.07" stroke="#aa052c" stroke-width="0.8" fill="none" opacity="0.72"/>
<circle cx="405.17" cy="218.65" r="1.72" fill="#aa052c"/>
<path d="M423.89 217.15V220.15M421.99 217.15H425.79M421.99 220.15H425.79" stroke="#aa052c" stroke-width="0.8" fill="none" opacity="0.72"/>
<circle cx="423.89" cy="218.65" r="1.72" fill="#aa052c"/>
<path d="M442.61 214.36V218.36M440.71 214.36H444.51M440.71 218.36H444.51" stroke="#aa052c" stroke-width="0.8" fill="none" opacity="0.72"/>
<circle cx="442.61" cy="216.36" r="1.72" fill="#aa052c"/>
<path d="M461.33 209.8V214.8M459.43 209.8H463.23M459.43 214.8H463.23" stroke="#aa052c" stroke-width="0.8" fill="none" opacity="0.72"/>
<circle cx="461.33" cy="212.3" r="1.72" fill="#aa052c"/>
<path d="M480.04 205.74V211.74M478.14 205.74H481.94M478.14 211.74H481.94" stroke="#aa052c" stroke-width="0.8" fill="none" opacity="0.72"/>
<circle cx="480.04" cy="208.74" r="1.72" fill="#aa052c"/>
<path d="M498.76 205.24V212.24M496.86 205.24H500.66M496.86 212.24H500.66" stroke="#aa052c" stroke-width="0.8" fill="none" opacity="0.72"/>
<circle cx="498.76" cy="208.74" r="1.72" fill="#aa052c"/>
<polyline points="398,216.46 399.71,216.35 401.42,216.23 403.12,216.08 404.83,215.92 406.54,215.73 408.25,215.52 409.95,215.27 411.66,215 413.37,214.69 415.08,214.34 416.79,213.95 418.49,213.51 420.2,213.03 421.91,212.5 423.62,211.92 425.33,211.28 427.03,210.6 428.74,209.87 430.45,209.1 432.16,208.28 433.86,207.44 435.57,206.57 437.28,205.68 438.99,204.78 440.7,203.89 442.4,203.01 444.11,202.15 445.82,201.32 447.53,200.53 449.24,199.78 450.94,199.08 452.65,198.42 454.36,197.82 456.07,197.26 457.77,196.76 459.48,196.3 461.19,195.89 462.9,195.52 464.61,195.19 466.31,194.9 468.02,194.65 469.73,194.42 471.44,194.22 473.15,194.04 474.85,193.89 476.56,193.76 478.27,193.64 479.98,193.54 481.68,193.45 483.39,193.37 485.1,193.31 486.81,193.25 488.52,193.2 490.22,193.15 491.93,193.12 493.64,193.08 495.35,193.06 497.06,193.03 498.76,193.01" fill="none" stroke="#193878" stroke-width="1.1"/>
<line x1="385.4" y1="217.5" x2="391.2" y2="217.5" stroke="#193878" stroke-width="1.1"/>
<path d="M385.4 216.94V219.34M383.5 216.94H387.3M383.5 219.34H387.3" stroke="#193878" stroke-width="0.8" fill="none" opacity="0.72"/>
<circle cx="385.4" cy="218.14" r="1.72" fill="#193878"/>
<path d="M405.17 211.58V217.58M403.27 211.58H407.07M403.27 217.58H407.07" stroke="#193878" stroke-width="0.8" fill="none" opacity="0.72"/>
<circle cx="405.17" cy="214.58" r="1.72" fill="#193878"/>
<path d="M423.89 209.04V215.04M421.99 209.04H425.79M421.99 215.04H425.79" stroke="#193878" stroke-width="0.8" fill="none" opacity="0.72"/>
<circle cx="423.89" cy="212.04" r="1.72" fill="#193878"/>
<path d="M442.61 199.41V207.41M440.71 199.41H444.51M440.71 207.41H444.51" stroke="#193878" stroke-width="0.8" fill="none" opacity="0.72"/>
<circle cx="442.61" cy="203.41" r="1.72" fill="#193878"/>
<path d="M461.33 189.02V201.02M459.43 189.02H463.23M459.43 201.02H463.23" stroke="#193878" stroke-width="0.8" fill="none" opacity="0.72"/>
<circle cx="461.33" cy="195.02" r="1.72" fill="#193878"/>
<path d="M480.04 186.25V200.25M478.14 186.25H481.94M478.14 200.25H481.94" stroke="#193878" stroke-width="0.8" fill="none" opacity="0.72"/>
<circle cx="480.04" cy="193.25" r="1.72" fill="#193878"/>
<path d="M498.76 187.75V199.75M496.86 187.75H500.66M496.86 199.75H500.66" stroke="#193878" stroke-width="0.8" fill="none" opacity="0.72"/>
<circle cx="498.76" cy="193.75" r="1.72" fill="#193878"/>
<text x="99.8" y="317.5" font-size="6.5" text-anchor="middle" textLength="15.1" lengthAdjust="spacingAndGlyphs" >Tregs</text>
<line x1="35" y1="384.5" x2="166" y2="384.5" stroke="#555" stroke-width="0.8" stroke-dasharray="1 1"/>
<path d="M33.55 322.3V395.85H46.5" fill="none" stroke="#111" stroke-width="1.35"/>
<line x1="46.5" y1="393.15" x2="46.5" y2="399.25" stroke="#111" stroke-width="1"/>
<line x1="39.9" y1="395.85" x2="39.9" y2="398.85" stroke="#111" stroke-width="0.7"/>
<line x1="51.8" y1="395.85" x2="166" y2="395.85" stroke="#111" stroke-width="1.35"/>
<line x1="51.8" y1="393.45" x2="51.8" y2="398.95" stroke="#111" stroke-width="0.8"/>
<line x1="57.2" y1="395.85" x2="57.2" y2="398.85" stroke="#111" stroke-width="0.8"/>
<text x="57.2" y="408" font-size="6.4" text-anchor="middle" >0.001</text>
<line x1="76.55" y1="395.85" x2="76.55" y2="397.45" stroke="#111" stroke-width="0.8"/>
<line x1="83.7" y1="395.85" x2="83.7" y2="398.85" stroke="#111" stroke-width="0.8"/>
<text x="83.7" y="408" font-size="6.4" text-anchor="middle" >0.01</text>
<line x1="103.05" y1="395.85" x2="103.05" y2="397.45" stroke="#111" stroke-width="0.8"/>
<line x1="110.2" y1="395.85" x2="110.2" y2="398.85" stroke="#111" stroke-width="0.8"/>
<text x="110.2" y="408" font-size="6.4" text-anchor="middle" >0.1</text>
<line x1="129.55" y1="395.85" x2="129.55" y2="397.45" stroke="#111" stroke-width="0.8"/>
<line x1="136.7" y1="395.85" x2="136.7" y2="398.85" stroke="#111" stroke-width="0.8"/>
<text x="136.7" y="408" font-size="6.4" text-anchor="middle" >1</text>
<line x1="156.05" y1="395.85" x2="156.05" y2="397.45" stroke="#111" stroke-width="0.8"/>
<line x1="163.2" y1="395.85" x2="163.2" y2="398.85" stroke="#111" stroke-width="0.8"/>
<text x="163.2" y="408" font-size="6.4" text-anchor="middle" >10</text>
<line x1="30.55" y1="384.2" x2="33.55" y2="384.2" stroke="#111" stroke-width="0.9"/>
<text x="27.15" y="386.7" font-size="6.4" text-anchor="end" >0</text>
<line x1="30.55" y1="364.91" x2="33.55" y2="364.91" stroke="#111" stroke-width="0.9"/>
<text x="27.15" y="367.41" font-size="6.4" text-anchor="end" >25</text>
<line x1="30.55" y1="345.63" x2="33.55" y2="345.63" stroke="#111" stroke-width="0.9"/>
<text x="27.15" y="348.13" font-size="6.4" text-anchor="end" >50</text>
<line x1="30.55" y1="326.34" x2="33.55" y2="326.34" stroke="#111" stroke-width="0.9"/>
<text x="27.15" y="328.84" font-size="6.4" text-anchor="end" >75</text>
<text transform="translate(15 359.3) rotate(-90)" font-size="8.8" class="h" text-anchor="middle" textLength="24.6" lengthAdjust="spacingAndGlyphs" fill="#222">Lysis (%)</text>
<text transform="translate(42.1 423.3) rotate(-90)" font-size="6.6" text-anchor="middle" textLength="42.2" lengthAdjust="spacingAndGlyphs" fill="#222">Solvent control</text>
<text x="100.2" y="419.5" font-size="8.3" text-anchor="middle" textLength="59.5" lengthAdjust="spacingAndGlyphs" class="h">Talquetamab (µg/mL)</text>
<text x="164" y="381.8" font-size="6.5" class="l" text-anchor="end" textLength="23.4" lengthAdjust="spacingAndGlyphs" fill="#222"><tspan font-style="italic">P</tspan><0.0001</text>
<circle cx="46.5" cy="331.6" r="1.65" fill="#193878"/>
<circle cx="46.5" cy="340.6" r="1.65" fill="#aa052c"/>
<text x="51.1" y="333" font-size="5.4" textLength="9.5" lengthAdjust="spacingAndGlyphs" fill="#333" class="l">Low</text>
<text x="51.1" y="342" font-size="5.4" textLength="10.8" lengthAdjust="spacingAndGlyphs" fill="#333" class="l">High</text>
<polyline points="52.4,385.55 54.1,385.42 55.8,385.27 57.5,385.09 59.2,384.89 60.9,384.66 62.6,384.4 64.29,384.09 65.99,383.75 67.69,383.35 69.39,382.9 71.09,382.39 72.79,381.82 74.49,381.17 76.19,380.45 77.89,379.65 79.59,378.77 81.29,377.8 82.99,376.75 84.69,375.61 86.38,374.4 88.08,373.11 89.78,371.77 91.48,370.37 93.18,368.94 94.88,367.48 96.58,366.03 98.28,364.58 99.98,363.17 101.68,361.8 103.38,360.49 105.08,359.24 106.78,358.07 108.47,356.99 110.17,355.98 111.87,355.06 113.57,354.23 115.27,353.47 116.97,352.8 118.67,352.19 120.37,351.66 122.07,351.18 123.77,350.76 125.47,350.4 127.17,350.08 128.87,349.8 130.56,349.55 132.26,349.34 133.96,349.15 135.66,348.99 137.36,348.85 139.06,348.73 140.76,348.63 142.46,348.54 144.16,348.46 145.86,348.4 147.56,348.34 149.26,348.29 150.96,348.25 152.65,348.21" fill="none" stroke="#aa052c" stroke-width="1.1"/>
<line x1="39.9" y1="386.5" x2="46.2" y2="386.5" stroke="#aa052c" stroke-width="1.1"/>
<path d="M60.04 383.9V389.9M58.14 383.9H61.94M58.14 389.9H61.94" stroke="#aa052c" stroke-width="0.8" fill="none" opacity="0.72"/>
<circle cx="60.04" cy="386.9" r="1.72" fill="#aa052c"/>
<path d="M78.56 376.19V384.19M76.66 376.19H80.46M76.66 384.19H80.46" stroke="#aa052c" stroke-width="0.8" fill="none" opacity="0.72"/>
<circle cx="78.56" cy="380.19" r="1.72" fill="#aa052c"/>
<path d="M97.09 359.68V367.68M95.19 359.68H98.99M95.19 367.68H98.99" stroke="#aa052c" stroke-width="0.8" fill="none" opacity="0.72"/>
<circle cx="97.09" cy="363.68" r="1.72" fill="#aa052c"/>
<path d="M115.61 350.04V360.04M113.71 350.04H117.51M113.71 360.04H117.51" stroke="#aa052c" stroke-width="0.8" fill="none" opacity="0.72"/>
<circle cx="115.61" cy="355.04" r="1.72" fill="#aa052c"/>
<path d="M134.13 345.72V357.72M132.23 345.72H136.03M132.23 357.72H136.03" stroke="#aa052c" stroke-width="0.8" fill="none" opacity="0.72"/>
<circle cx="134.13" cy="351.72" r="1.72" fill="#aa052c"/>
<path d="M152.65 340.01V350.01M150.75 340.01H154.55M150.75 350.01H154.55" stroke="#aa052c" stroke-width="0.8" fill="none" opacity="0.72"/>
<circle cx="152.65" cy="345.01" r="1.72" fill="#aa052c"/>
<polyline points="52.4,383.99 54.1,383.73 55.8,383.43 57.5,383.08 59.2,382.68 60.9,382.21 62.6,381.68 64.29,381.06 65.99,380.35 67.69,379.55 69.39,378.64 71.09,377.61 72.79,376.45 74.49,375.17 76.19,373.74 77.89,372.18 79.59,370.48 81.29,368.65 82.99,366.69 84.69,364.63 86.38,362.49 88.08,360.27 89.78,358.02 91.48,355.77 93.18,353.53 94.88,351.34 96.58,349.22 98.28,347.19 99.98,345.28 101.68,343.5 103.38,341.85 105.08,340.33 106.78,338.96 108.47,337.72 110.17,336.61 111.87,335.63 113.57,334.76 115.27,333.99 116.97,333.32 118.67,332.73 120.37,332.22 122.07,331.78 123.77,331.4 125.47,331.07 127.17,330.78 128.87,330.54 130.56,330.33 132.26,330.14 133.96,329.99 135.66,329.86 137.36,329.74 139.06,329.65 140.76,329.56 142.46,329.49 144.16,329.43 145.86,329.38 147.56,329.34 149.26,329.3 150.96,329.27 152.65,329.24" fill="none" stroke="#193878" stroke-width="1.1"/>
<line x1="39.9" y1="385.5" x2="46.2" y2="385.5" stroke="#193878" stroke-width="1.1"/>
<circle cx="39.9" cy="384.2" r="1.72" fill="#193878"/>
<path d="M60.04 381.82V387.82M58.14 381.82H61.94M58.14 387.82H61.94" stroke="#193878" stroke-width="0.8" fill="none" opacity="0.72"/>
<circle cx="60.04" cy="384.82" r="1.72" fill="#193878"/>
<path d="M78.56 364.93V374.93M76.66 364.93H80.46M76.66 374.93H80.46" stroke="#193878" stroke-width="0.8" fill="none" opacity="0.72"/>
<circle cx="78.56" cy="369.93" r="1.72" fill="#193878"/>
<path d="M97.09 344.64V354.64M95.19 344.64H98.99M95.19 354.64H98.99" stroke="#193878" stroke-width="0.8" fill="none" opacity="0.72"/>
<circle cx="97.09" cy="349.64" r="1.72" fill="#193878"/>
<path d="M115.61 330.05V336.05M113.71 330.05H117.51M113.71 336.05H117.51" stroke="#193878" stroke-width="0.8" fill="none" opacity="0.72"/>
<circle cx="115.61" cy="333.05" r="1.72" fill="#193878"/>
<path d="M134.13 327.2V333.2M132.23 327.2H136.03M132.23 333.2H136.03" stroke="#193878" stroke-width="0.8" fill="none" opacity="0.72"/>
<circle cx="134.13" cy="330.2" r="1.72" fill="#193878"/>
<path d="M152.65 326.35V332.35M150.75 326.35H154.55M150.75 332.35H154.55" stroke="#193878" stroke-width="0.8" fill="none" opacity="0.72"/>
<circle cx="152.65" cy="329.35" r="1.72" fill="#193878"/>
<text x="272.1" y="317.5" font-size="6.5" text-anchor="middle" textLength="15.1" lengthAdjust="spacingAndGlyphs" >Tregs</text>
<line x1="207" y1="385.5" x2="339.12" y2="385.5" stroke="#555" stroke-width="0.8" stroke-dasharray="1 1"/>
<path d="M206 322.3V395.85H218.7" fill="none" stroke="#111" stroke-width="1.35"/>
<line x1="218.7" y1="393.15" x2="218.7" y2="399.25" stroke="#111" stroke-width="1"/>
<line x1="212.5" y1="395.85" x2="212.5" y2="398.85" stroke="#111" stroke-width="0.7"/>
<line x1="224.3" y1="395.85" x2="339.12" y2="395.85" stroke="#111" stroke-width="1.35"/>
<line x1="224.3" y1="393.45" x2="224.3" y2="398.95" stroke="#111" stroke-width="0.8"/>
<line x1="229.6" y1="395.85" x2="229.6" y2="398.85" stroke="#111" stroke-width="0.8"/>
<text x="229.6" y="408" font-size="6.4" text-anchor="middle" >0.001</text>
<line x1="249.08" y1="395.85" x2="249.08" y2="397.45" stroke="#111" stroke-width="0.8"/>
<line x1="256.28" y1="395.85" x2="256.28" y2="398.85" stroke="#111" stroke-width="0.8"/>
<text x="256.28" y="408" font-size="6.4" text-anchor="middle" >0.01</text>
<line x1="275.76" y1="395.85" x2="275.76" y2="397.45" stroke="#111" stroke-width="0.8"/>
<line x1="282.96" y1="395.85" x2="282.96" y2="398.85" stroke="#111" stroke-width="0.8"/>
<text x="282.96" y="408" font-size="6.4" text-anchor="middle" >0.1</text>
<line x1="302.44" y1="395.85" x2="302.44" y2="397.45" stroke="#111" stroke-width="0.8"/>
<line x1="309.64" y1="395.85" x2="309.64" y2="398.85" stroke="#111" stroke-width="0.8"/>
<text x="309.64" y="408" font-size="6.4" text-anchor="middle" >1</text>
<line x1="329.12" y1="395.85" x2="329.12" y2="397.45" stroke="#111" stroke-width="0.8"/>
<line x1="336.32" y1="395.85" x2="336.32" y2="398.85" stroke="#111" stroke-width="0.8"/>
<text x="336.32" y="408" font-size="6.4" text-anchor="middle" >10</text>
<line x1="203" y1="385.6" x2="206" y2="385.6" stroke="#111" stroke-width="0.9"/>
<text x="199.6" y="388.1" font-size="6.4" text-anchor="end" >0</text>
<line x1="203" y1="359.25" x2="206" y2="359.25" stroke="#111" stroke-width="0.9"/>
<text x="199.6" y="361.75" font-size="6.4" text-anchor="end" >25</text>
<line x1="203" y1="332.9" x2="206" y2="332.9" stroke="#111" stroke-width="0.9"/>
<text x="199.6" y="335.4" font-size="6.4" text-anchor="end" >50</text>
<text transform="translate(187 359.1) rotate(-90)" font-size="8.6" class="h" text-anchor="middle" textLength="48" lengthAdjust="spacingAndGlyphs" fill="#222">CD25<tspan dy="-2.6" font-size="4.6">+</tspan><tspan dy="2.6"> T-cells (%)</tspan></text>
<text transform="translate(214.7 423.3) rotate(-90)" font-size="6.6" text-anchor="middle" textLength="42.2" lengthAdjust="spacingAndGlyphs" fill="#222">Solvent control</text>
<text x="272.5" y="419.5" font-size="8.3" text-anchor="middle" textLength="59.5" lengthAdjust="spacingAndGlyphs" class="h">Talquetamab (µg/mL)</text>
<text x="337.12" y="381.8" font-size="6.5" class="l" text-anchor="end" textLength="23.4" lengthAdjust="spacingAndGlyphs" fill="#222"><tspan font-style="italic">P</tspan>=0.0060</text>
<polyline points="224.9,370.03 226.61,369.93 228.32,369.83 230.03,369.71 231.73,369.58 233.44,369.43 235.15,369.26 236.86,369.06 238.57,368.84 240.28,368.6 241.99,368.32 243.69,368.02 245.4,367.68 247.11,367.3 248.82,366.88 250.53,366.42 252.24,365.91 253.94,365.36 255.65,364.76 257.36,364.12 259.07,363.43 260.78,362.7 262.49,361.93 264.2,361.13 265.9,360.3 267.61,359.44 269.32,358.57 271.03,357.69 272.74,356.81 274.45,355.94 276.16,355.08 277.86,354.25 279.57,353.45 281.28,352.68 282.99,351.95 284.7,351.26 286.41,350.62 288.12,350.03 289.82,349.48 291.53,348.97 293.24,348.51 294.95,348.09 296.66,347.72 298.37,347.38 300.08,347.07 301.78,346.8 303.49,346.55 305.2,346.33 306.91,346.14 308.62,345.97 310.33,345.82 312.03,345.69 313.74,345.57 315.45,345.47 317.16,345.37 318.87,345.29 320.58,345.22 322.29,345.16 323.99,345.11 325.7,345.06" fill="none" stroke="#aa052c" stroke-width="1.1"/>
<line x1="212.5" y1="370.5" x2="218.4" y2="370.5" stroke="#aa052c" stroke-width="1.1"/>
<path d="M212.5 369.43V371.83M210.6 369.43H214.4M210.6 371.83H214.4" stroke="#aa052c" stroke-width="0.8" fill="none" opacity="0.72"/>
<circle cx="212.5" cy="370.63" r="1.72" fill="#aa052c"/>
<path d="M232.46 368.17V370.57M230.56 368.17H234.36M230.56 370.57H234.36" stroke="#aa052c" stroke-width="0.8" fill="none" opacity="0.72"/>
<circle cx="232.46" cy="369.37" r="1.72" fill="#aa052c"/>
<path d="M251.11 365.13V368.13M249.21 365.13H253.01M249.21 368.13H253.01" stroke="#aa052c" stroke-width="0.8" fill="none" opacity="0.72"/>
<circle cx="251.11" cy="366.63" r="1.72" fill="#aa052c"/>
<path d="M269.76 354.99V360.99M267.86 354.99H271.66M267.86 360.99H271.66" stroke="#aa052c" stroke-width="0.8" fill="none" opacity="0.72"/>
<circle cx="269.76" cy="357.99" r="1.72" fill="#aa052c"/>
<path d="M288.41 346.19V354.19M286.51 346.19H290.31M286.51 354.19H290.31" stroke="#aa052c" stroke-width="0.8" fill="none" opacity="0.72"/>
<circle cx="288.41" cy="350.19" r="1.72" fill="#aa052c"/>
<path d="M307.05 342.18V350.18M305.15 342.18H308.95M305.15 350.18H308.95" stroke="#aa052c" stroke-width="0.8" fill="none" opacity="0.72"/>
<circle cx="307.05" cy="346.18" r="1.72" fill="#aa052c"/>
<path d="M325.7 340.92V348.92M323.8 340.92H327.6M323.8 348.92H327.6" stroke="#aa052c" stroke-width="0.8" fill="none" opacity="0.72"/>
<circle cx="325.7" cy="344.92" r="1.72" fill="#aa052c"/>
<polyline points="224.9,372.75 226.61,372.59 228.32,372.4 230.03,372.19 231.73,371.95 233.44,371.68 235.15,371.37 236.86,371.02 238.57,370.63 240.28,370.19 241.99,369.71 243.69,369.16 245.4,368.56 247.11,367.89 248.82,367.15 250.53,366.35 252.24,365.48 253.94,364.53 255.65,363.52 257.36,362.44 259.07,361.3 260.78,360.11 262.49,358.86 264.2,357.58 265.9,356.27 267.61,354.95 269.32,353.63 271.03,352.32 272.74,351.03 274.45,349.77 276.16,348.56 277.86,347.4 279.57,346.3 281.28,345.27 282.99,344.3 284.7,343.4 286.41,342.58 288.12,341.82 289.82,341.13 291.53,340.51 293.24,339.95 294.95,339.44 296.66,338.99 298.37,338.58 300.08,338.22 301.78,337.9 303.49,337.62 305.2,337.37 306.91,337.15 308.62,336.96 310.33,336.79 312.03,336.64 313.74,336.51 315.45,336.39 317.16,336.29 318.87,336.2 320.58,336.12 322.29,336.06 323.99,336 325.7,335.95" fill="none" stroke="#193878" stroke-width="1.1"/>
<line x1="212.5" y1="373.5" x2="218.4" y2="373.5" stroke="#193878" stroke-width="1.1"/>
<path d="M212.5 372.6V375M210.6 372.6H214.4M210.6 375H214.4" stroke="#193878" stroke-width="0.8" fill="none" opacity="0.72"/>
<circle cx="212.5" cy="373.8" r="1.72" fill="#193878"/>
<path d="M232.46 370.49V372.89M230.56 370.49H234.36M230.56 372.89H234.36" stroke="#193878" stroke-width="0.8" fill="none" opacity="0.72"/>
<circle cx="232.46" cy="371.69" r="1.72" fill="#193878"/>
<path d="M251.11 365.13V368.13M249.21 365.13H253.01M249.21 368.13H253.01" stroke="#193878" stroke-width="0.8" fill="none" opacity="0.72"/>
<circle cx="251.11" cy="366.63" r="1.72" fill="#193878"/>
<path d="M269.76 347.61V357.61M267.86 347.61H271.66M267.86 357.61H271.66" stroke="#193878" stroke-width="0.8" fill="none" opacity="0.72"/>
<circle cx="269.76" cy="352.61" r="1.72" fill="#193878"/>
<path d="M288.41 337.89V346.89M286.51 337.89H290.31M286.51 346.89H290.31" stroke="#193878" stroke-width="0.8" fill="none" opacity="0.72"/>
<circle cx="288.41" cy="342.39" r="1.72" fill="#193878"/>
<path d="M307.05 332.01V342.01M305.15 332.01H308.95M305.15 342.01H308.95" stroke="#193878" stroke-width="0.8" fill="none" opacity="0.72"/>
<circle cx="307.05" cy="337.01" r="1.72" fill="#193878"/>
<path d="M325.7 330.75V340.75M323.8 330.75H327.6M323.8 340.75H327.6" stroke="#193878" stroke-width="0.8" fill="none" opacity="0.72"/>
<circle cx="325.7" cy="335.75" r="1.72" fill="#193878"/>
<text x="445.4" y="317.5" font-size="6.5" text-anchor="middle" textLength="15.1" lengthAdjust="spacingAndGlyphs" >Tregs</text>
<line x1="380" y1="385.5" x2="512.22" y2="385.5" stroke="#555" stroke-width="0.8" stroke-dasharray="1 1"/>
<path d="M379 322.3V395.85H391.5" fill="none" stroke="#111" stroke-width="1.35"/>
<line x1="391.5" y1="393.15" x2="391.5" y2="399.25" stroke="#111" stroke-width="1"/>
<line x1="385.4" y1="395.85" x2="385.4" y2="398.85" stroke="#111" stroke-width="0.7"/>
<line x1="397.4" y1="395.85" x2="512.22" y2="395.85" stroke="#111" stroke-width="1.35"/>
<line x1="397.4" y1="393.45" x2="397.4" y2="398.95" stroke="#111" stroke-width="0.8"/>
<line x1="402.3" y1="395.85" x2="402.3" y2="398.85" stroke="#111" stroke-width="0.8"/>
<text x="402.3" y="408" font-size="6.4" text-anchor="middle" >0.001</text>
<line x1="421.85" y1="395.85" x2="421.85" y2="397.45" stroke="#111" stroke-width="0.8"/>
<line x1="429.08" y1="395.85" x2="429.08" y2="398.85" stroke="#111" stroke-width="0.8"/>
<text x="429.08" y="408" font-size="6.4" text-anchor="middle" >0.01</text>
<line x1="448.63" y1="395.85" x2="448.63" y2="397.45" stroke="#111" stroke-width="0.8"/>
<line x1="455.86" y1="395.85" x2="455.86" y2="398.85" stroke="#111" stroke-width="0.8"/>
<text x="455.86" y="408" font-size="6.4" text-anchor="middle" >0.1</text>
<line x1="475.41" y1="395.85" x2="475.41" y2="397.45" stroke="#111" stroke-width="0.8"/>
<line x1="482.64" y1="395.85" x2="482.64" y2="398.85" stroke="#111" stroke-width="0.8"/>
<text x="482.64" y="408" font-size="6.4" text-anchor="middle" >1</text>
<line x1="502.19" y1="395.85" x2="502.19" y2="397.45" stroke="#111" stroke-width="0.8"/>
<line x1="509.42" y1="395.85" x2="509.42" y2="398.85" stroke="#111" stroke-width="0.8"/>
<text x="509.42" y="408" font-size="6.4" text-anchor="middle" >10</text>
<line x1="376" y1="385.7" x2="379" y2="385.7" stroke="#111" stroke-width="0.9"/>
<text x="372.6" y="388.2" font-size="6.4" text-anchor="end" >0</text>
<line x1="376" y1="360.3" x2="379" y2="360.3" stroke="#111" stroke-width="0.9"/>
<text x="372.6" y="362.8" font-size="6.4" text-anchor="end" >10</text>
<line x1="376" y1="334.9" x2="379" y2="334.9" stroke="#111" stroke-width="0.9"/>
<text x="372.6" y="337.4" font-size="6.4" text-anchor="end" >20</text>
<text transform="translate(360 358.6) rotate(-90)" font-size="8.6" class="h" text-anchor="middle" textLength="54.3" lengthAdjust="spacingAndGlyphs" fill="#222">CD107a<tspan dy="-2.6" font-size="4.6">+</tspan><tspan dy="2.6"> T-cells (%)</tspan></text>
<text transform="translate(387.6 423.3) rotate(-90)" font-size="6.6" text-anchor="middle" textLength="42.2" lengthAdjust="spacingAndGlyphs" fill="#222">Solvent control</text>
<text x="445.8" y="419.5" font-size="8.3" text-anchor="middle" textLength="59.5" lengthAdjust="spacingAndGlyphs" class="h">Talquetamab (µg/mL)</text>
<text x="510.22" y="381.8" font-size="6.5" class="l" text-anchor="end" textLength="23.4" lengthAdjust="spacingAndGlyphs" fill="#222"><tspan font-style="italic">P</tspan>=0.1207</text>
<polyline points="398,358.61 399.71,358.56 401.42,358.49 403.12,358.42 404.83,358.33 406.54,358.22 408.25,358.09 409.95,357.94 411.66,357.77 413.37,357.57 415.08,357.34 416.79,357.07 418.49,356.77 420.2,356.43 421.91,356.05 423.62,355.64 425.33,355.18 427.03,354.7 428.74,354.19 430.45,353.65 432.16,353.1 433.86,352.55 435.57,352 437.28,351.47 438.99,350.96 440.7,350.47 442.4,350.02 444.11,349.6 445.82,349.23 447.53,348.89 449.24,348.59 450.94,348.32 452.65,348.09 454.36,347.89 456.07,347.72 457.77,347.57 459.48,347.44 461.19,347.33 462.9,347.24 464.61,347.17 466.31,347.1 468.02,347.05 469.73,347 471.44,346.96 473.15,346.93 474.85,346.9 476.56,346.88 478.27,346.86 479.98,346.84 481.68,346.83 483.39,346.82 485.1,346.81 486.81,346.8 488.52,346.8 490.22,346.79 491.93,346.79 493.64,346.78 495.35,346.78 497.06,346.78 498.76,346.77" fill="none" stroke="#aa052c" stroke-width="1.1"/>
<line x1="385.4" y1="358.5" x2="391.2" y2="358.5" stroke="#aa052c" stroke-width="1.1"/>
<path d="M385.4 358.08V360.48M383.5 358.08H387.3M383.5 360.48H387.3" stroke="#aa052c" stroke-width="0.8" fill="none" opacity="0.72"/>
<circle cx="385.4" cy="359.28" r="1.72" fill="#aa052c"/>
<path d="M405.17 356.01V360.01M403.27 356.01H407.07M403.27 360.01H407.07" stroke="#aa052c" stroke-width="0.8" fill="none" opacity="0.72"/>
<circle cx="405.17" cy="358.01" r="1.72" fill="#aa052c"/>
<path d="M423.89 353.22V357.22M421.99 353.22H425.79M421.99 357.22H425.79" stroke="#aa052c" stroke-width="0.8" fill="none" opacity="0.72"/>
<circle cx="423.89" cy="355.22" r="1.72" fill="#aa052c"/>
<path d="M442.61 347.9V353.9M440.71 347.9H444.51M440.71 353.9H444.51" stroke="#aa052c" stroke-width="0.8" fill="none" opacity="0.72"/>
<circle cx="442.61" cy="350.9" r="1.72" fill="#aa052c"/>
<path d="M461.33 341.06V349.06M459.43 341.06H463.23M459.43 349.06H463.23" stroke="#aa052c" stroke-width="0.8" fill="none" opacity="0.72"/>
<circle cx="461.33" cy="345.06" r="1.72" fill="#aa052c"/>
<path d="M480.04 343.34V350.34M478.14 343.34H481.94M478.14 350.34H481.94" stroke="#aa052c" stroke-width="0.8" fill="none" opacity="0.72"/>
<circle cx="480.04" cy="346.84" r="1.72" fill="#aa052c"/>
<path d="M498.76 345.36V351.36M496.86 345.36H500.66M496.86 351.36H500.66" stroke="#aa052c" stroke-width="0.8" fill="none" opacity="0.72"/>
<circle cx="498.76" cy="348.36" r="1.72" fill="#aa052c"/>
<polyline points="398,359.68 399.71,359.55 401.42,359.42 403.12,359.27 404.83,359.11 406.54,358.94 408.25,358.75 409.95,358.55 411.66,358.34 413.37,358.1 415.08,357.85 416.79,357.58 418.49,357.3 420.2,356.99 421.91,356.66 423.62,356.31 425.33,355.94 427.03,355.55 428.74,355.13 430.45,354.7 432.16,354.24 433.86,353.76 435.57,353.26 437.28,352.74 438.99,352.21 440.7,351.66 442.4,351.09 444.11,350.51 445.82,349.92 447.53,349.32 449.24,348.72 450.94,348.11 452.65,347.5 454.36,346.89 456.07,346.29 457.77,345.69 459.48,345.11 461.19,344.53 462.9,343.97 464.61,343.43 466.31,342.9 468.02,342.39 469.73,341.9 471.44,341.43 473.15,340.98 474.85,340.56 476.56,340.15 478.27,339.77 479.98,339.41 481.68,339.07 483.39,338.75 485.1,338.45 486.81,338.17 488.52,337.91 490.22,337.67 491.93,337.44 493.64,337.23 495.35,337.04 497.06,336.86 498.76,336.69" fill="none" stroke="#193878" stroke-width="1.1"/>
<line x1="385.4" y1="361.5" x2="391.2" y2="361.5" stroke="#193878" stroke-width="1.1"/>
<path d="M385.4 360.12V362.52M383.5 360.12H387.3M383.5 362.52H387.3" stroke="#193878" stroke-width="0.8" fill="none" opacity="0.72"/>
<circle cx="385.4" cy="361.32" r="1.72" fill="#193878"/>
<path d="M405.17 355.52V361.52M403.27 355.52H407.07M403.27 361.52H407.07" stroke="#193878" stroke-width="0.8" fill="none" opacity="0.72"/>
<circle cx="405.17" cy="358.52" r="1.72" fill="#193878"/>
<path d="M423.89 353.49V359.49M421.99 353.49H425.79M421.99 359.49H425.79" stroke="#193878" stroke-width="0.8" fill="none" opacity="0.72"/>
<circle cx="423.89" cy="356.49" r="1.72" fill="#193878"/>
<path d="M442.61 346.9V354.9M440.71 346.9H444.51M440.71 354.9H444.51" stroke="#193878" stroke-width="0.8" fill="none" opacity="0.72"/>
<circle cx="442.61" cy="350.9" r="1.72" fill="#193878"/>
<path d="M461.33 340.06V350.06M459.43 340.06H463.23M459.43 350.06H463.23" stroke="#193878" stroke-width="0.8" fill="none" opacity="0.72"/>
<circle cx="461.33" cy="345.06" r="1.72" fill="#193878"/>
<path d="M480.04 331.46V345.46M478.14 331.46H481.94M478.14 345.46H481.94" stroke="#193878" stroke-width="0.8" fill="none" opacity="0.72"/>
<circle cx="480.04" cy="338.46" r="1.72" fill="#193878"/>
<path d="M498.76 331.19V343.19M496.86 331.19H500.66M496.86 343.19H500.66" stroke="#193878" stroke-width="0.8" fill="none" opacity="0.72"/>
<circle cx="498.76" cy="337.19" r="1.72" fill="#193878"/>
<text x="99.8" y="462.4" font-size="6.5" text-anchor="middle" textLength="36.3" lengthAdjust="spacingAndGlyphs" fill="#222">PD-1<tspan dy="-2.7" font-size="4.2">+</tspan><tspan dy="2.7"> T-cells</tspan></text>
<line x1="35" y1="529.5" x2="166" y2="529.5" stroke="#555" stroke-width="0.8" stroke-dasharray="1 1"/>
<path d="M33.55 467.2V540.75H46.5" fill="none" stroke="#111" stroke-width="1.35"/>
<line x1="46.5" y1="538.05" x2="46.5" y2="544.15" stroke="#111" stroke-width="1"/>
<line x1="39.9" y1="540.75" x2="39.9" y2="543.75" stroke="#111" stroke-width="0.7"/>
<line x1="51.8" y1="540.75" x2="166" y2="540.75" stroke="#111" stroke-width="1.35"/>
<line x1="51.8" y1="538.35" x2="51.8" y2="543.85" stroke="#111" stroke-width="0.8"/>
<line x1="57.2" y1="540.75" x2="57.2" y2="543.75" stroke="#111" stroke-width="0.8"/>
<text x="57.2" y="552.9" font-size="6.4" text-anchor="middle" >0.001</text>
<line x1="76.55" y1="540.75" x2="76.55" y2="542.35" stroke="#111" stroke-width="0.8"/>
<line x1="83.7" y1="540.75" x2="83.7" y2="543.75" stroke="#111" stroke-width="0.8"/>
<text x="83.7" y="552.9" font-size="6.4" text-anchor="middle" >0.01</text>
<line x1="103.05" y1="540.75" x2="103.05" y2="542.35" stroke="#111" stroke-width="0.8"/>
<line x1="110.2" y1="540.75" x2="110.2" y2="543.75" stroke="#111" stroke-width="0.8"/>
<text x="110.2" y="552.9" font-size="6.4" text-anchor="middle" >0.1</text>
<line x1="129.55" y1="540.75" x2="129.55" y2="542.35" stroke="#111" stroke-width="0.8"/>
<line x1="136.7" y1="540.75" x2="136.7" y2="543.75" stroke="#111" stroke-width="0.8"/>
<text x="136.7" y="552.9" font-size="6.4" text-anchor="middle" >1</text>
<line x1="156.05" y1="540.75" x2="156.05" y2="542.35" stroke="#111" stroke-width="0.8"/>
<line x1="163.2" y1="540.75" x2="163.2" y2="543.75" stroke="#111" stroke-width="0.8"/>
<text x="163.2" y="552.9" font-size="6.4" text-anchor="middle" >10</text>
<line x1="30.55" y1="529.1" x2="33.55" y2="529.1" stroke="#111" stroke-width="0.9"/>
<text x="27.15" y="531.6" font-size="6.4" text-anchor="end" >0</text>
<line x1="30.55" y1="509.81" x2="33.55" y2="509.81" stroke="#111" stroke-width="0.9"/>
<text x="27.15" y="512.31" font-size="6.4" text-anchor="end" >25</text>
<line x1="30.55" y1="490.53" x2="33.55" y2="490.53" stroke="#111" stroke-width="0.9"/>
<text x="27.15" y="493.03" font-size="6.4" text-anchor="end" >50</text>
<line x1="30.55" y1="471.24" x2="33.55" y2="471.24" stroke="#111" stroke-width="0.9"/>
<text x="27.15" y="473.74" font-size="6.4" text-anchor="end" >75</text>
<text transform="translate(15 504.2) rotate(-90)" font-size="8.8" class="h" text-anchor="middle" textLength="24.6" lengthAdjust="spacingAndGlyphs" fill="#222">Lysis (%)</text>
<text transform="translate(42.1 568.2) rotate(-90)" font-size="6.6" text-anchor="middle" textLength="42.2" lengthAdjust="spacingAndGlyphs" fill="#222">Solvent control</text>
<text x="100.2" y="564.4" font-size="8.3" text-anchor="middle" textLength="59.5" lengthAdjust="spacingAndGlyphs" class="h">Talquetamab (µg/mL)</text>
<text x="164" y="526.7" font-size="6.5" class="l" text-anchor="end" textLength="23.4" lengthAdjust="spacingAndGlyphs" fill="#222"><tspan font-style="italic">P</tspan>=0.0002</text>
<circle cx="46.5" cy="476.5" r="1.65" fill="#193878"/>
<circle cx="46.5" cy="485.5" r="1.65" fill="#aa052c"/>
<text x="51.1" y="477.9" font-size="5.4" textLength="9.5" lengthAdjust="spacingAndGlyphs" fill="#333" class="l">Low</text>
<text x="51.1" y="486.9" font-size="5.4" textLength="10.8" lengthAdjust="spacingAndGlyphs" fill="#333" class="l">High</text>
<polyline points="52.4,529.62 54.1,529.51 55.8,529.39 57.5,529.25 59.2,529.08 60.9,528.88 62.6,528.65 64.29,528.38 65.99,528.07 67.69,527.71 69.39,527.29 71.09,526.81 72.79,526.26 74.49,525.63 76.19,524.91 77.89,524.11 79.59,523.2 81.29,522.2 82.99,521.09 84.69,519.88 86.38,518.57 88.08,517.18 89.78,515.7 91.48,514.17 93.18,512.59 94.88,510.99 96.58,509.39 98.28,507.81 99.98,506.27 101.68,504.79 103.38,503.39 105.08,502.08 106.78,500.86 108.47,499.75 110.17,498.74 111.87,497.83 113.57,497.01 115.27,496.29 116.97,495.66 118.67,495.1 120.37,494.61 122.07,494.19 123.77,493.83 125.47,493.51 127.17,493.24 128.87,493.01 130.56,492.81 132.26,492.64 133.96,492.5 135.66,492.38 137.36,492.27 139.06,492.18 140.76,492.1 142.46,492.04 144.16,491.98 145.86,491.94 147.56,491.9 149.26,491.86 150.96,491.84 152.65,491.81" fill="none" stroke="#aa052c" stroke-width="1.1"/>
<line x1="39.9" y1="530.5" x2="46.2" y2="530.5" stroke="#aa052c" stroke-width="1.1"/>
<path d="M60.04 526.79V532.79M58.14 526.79H61.94M58.14 532.79H61.94" stroke="#aa052c" stroke-width="0.8" fill="none" opacity="0.72"/>
<circle cx="60.04" cy="529.79" r="1.72" fill="#aa052c"/>
<path d="M78.56 521.55V527.55M76.66 521.55H80.46M76.66 527.55H80.46" stroke="#aa052c" stroke-width="0.8" fill="none" opacity="0.72"/>
<circle cx="78.56" cy="524.55" r="1.72" fill="#aa052c"/>
<path d="M97.09 502.81V512.81M95.19 502.81H98.99M95.19 512.81H98.99" stroke="#aa052c" stroke-width="0.8" fill="none" opacity="0.72"/>
<circle cx="97.09" cy="507.81" r="1.72" fill="#aa052c"/>
<path d="M115.61 492.24V502.24M113.71 492.24H117.51M113.71 502.24H117.51" stroke="#aa052c" stroke-width="0.8" fill="none" opacity="0.72"/>
<circle cx="115.61" cy="497.24" r="1.72" fill="#aa052c"/>
<path d="M134.13 487.73V500.73M132.23 487.73H136.03M132.23 500.73H136.03" stroke="#aa052c" stroke-width="0.8" fill="none" opacity="0.72"/>
<circle cx="134.13" cy="494.23" r="1.72" fill="#aa052c"/>
<path d="M152.65 484.6V494.6M150.75 484.6H154.55M150.75 494.6H154.55" stroke="#aa052c" stroke-width="0.8" fill="none" opacity="0.72"/>
<circle cx="152.65" cy="489.6" r="1.72" fill="#aa052c"/>
<polyline points="52.4,529.37 54.1,529.15 55.8,528.89 57.5,528.59 59.2,528.25 60.9,527.85 62.6,527.39 64.29,526.86 65.99,526.25 67.69,525.56 69.39,524.76 71.09,523.87 72.79,522.86 74.49,521.73 76.19,520.48 77.89,519.1 79.59,517.58 81.29,515.94 82.99,514.18 84.69,512.31 86.38,510.35 88.08,508.31 89.78,506.22 91.48,504.11 93.18,502 94.88,499.92 96.58,497.89 98.28,495.94 99.98,494.08 101.68,492.34 103.38,490.72 105.08,489.22 106.78,487.86 108.47,486.62 110.17,485.51 111.87,484.52 113.57,483.64 115.27,482.87 116.97,482.19 118.67,481.59 120.37,481.07 122.07,480.62 123.77,480.23 125.47,479.89 127.17,479.6 128.87,479.35 130.56,479.14 132.26,478.95 133.96,478.79 135.66,478.66 137.36,478.54 139.06,478.44 140.76,478.36 142.46,478.28 144.16,478.22 145.86,478.17 147.56,478.12 149.26,478.08 150.96,478.05 152.65,478.02" fill="none" stroke="#193878" stroke-width="1.1"/>
<line x1="39.9" y1="530.5" x2="46.2" y2="530.5" stroke="#193878" stroke-width="1.1"/>
<circle cx="39.9" cy="529.1" r="1.72" fill="#193878"/>
<path d="M60.04 527.64V533.64M58.14 527.64H61.94M58.14 533.64H61.94" stroke="#193878" stroke-width="0.8" fill="none" opacity="0.72"/>
<circle cx="60.04" cy="530.64" r="1.72" fill="#193878"/>
<path d="M78.56 512.06V522.06M76.66 512.06H80.46M76.66 522.06H80.46" stroke="#193878" stroke-width="0.8" fill="none" opacity="0.72"/>
<circle cx="78.56" cy="517.06" r="1.72" fill="#193878"/>
<path d="M97.09 494.01V502.01M95.19 494.01H98.99M95.19 502.01H98.99" stroke="#193878" stroke-width="0.8" fill="none" opacity="0.72"/>
<circle cx="97.09" cy="498.01" r="1.72" fill="#193878"/>
<path d="M115.61 479.12V485.12M113.71 479.12H117.51M113.71 485.12H117.51" stroke="#193878" stroke-width="0.8" fill="none" opacity="0.72"/>
<circle cx="115.61" cy="482.12" r="1.72" fill="#193878"/>
<path d="M134.13 476.69V483.69M132.23 476.69H136.03M132.23 483.69H136.03" stroke="#193878" stroke-width="0.8" fill="none" opacity="0.72"/>
<circle cx="134.13" cy="480.19" r="1.72" fill="#193878"/>
<path d="M152.65 473.95V479.95M150.75 473.95H154.55M150.75 479.95H154.55" stroke="#193878" stroke-width="0.8" fill="none" opacity="0.72"/>
<circle cx="152.65" cy="476.95" r="1.72" fill="#193878"/>
<text x="272.1" y="462.4" font-size="6.5" text-anchor="middle" textLength="36.3" lengthAdjust="spacingAndGlyphs" fill="#222">PD-1<tspan dy="-2.7" font-size="4.2">+</tspan><tspan dy="2.7"> T-cells</tspan></text>
<line x1="207" y1="530.5" x2="339.12" y2="530.5" stroke="#555" stroke-width="0.8" stroke-dasharray="1 1"/>
<path d="M206 467.2V540.75H218.7" fill="none" stroke="#111" stroke-width="1.35"/>
<line x1="218.7" y1="538.05" x2="218.7" y2="544.15" stroke="#111" stroke-width="1"/>
<line x1="212.5" y1="540.75" x2="212.5" y2="543.75" stroke="#111" stroke-width="0.7"/>
<line x1="224.3" y1="540.75" x2="339.12" y2="540.75" stroke="#111" stroke-width="1.35"/>
<line x1="224.3" y1="538.35" x2="224.3" y2="543.85" stroke="#111" stroke-width="0.8"/>
<line x1="229.6" y1="540.75" x2="229.6" y2="543.75" stroke="#111" stroke-width="0.8"/>
<text x="229.6" y="552.9" font-size="6.4" text-anchor="middle" >0.001</text>
<line x1="249.08" y1="540.75" x2="249.08" y2="542.35" stroke="#111" stroke-width="0.8"/>
<line x1="256.28" y1="540.75" x2="256.28" y2="543.75" stroke="#111" stroke-width="0.8"/>
<text x="256.28" y="552.9" font-size="6.4" text-anchor="middle" >0.01</text>
<line x1="275.76" y1="540.75" x2="275.76" y2="542.35" stroke="#111" stroke-width="0.8"/>
<line x1="282.96" y1="540.75" x2="282.96" y2="543.75" stroke="#111" stroke-width="0.8"/>
<text x="282.96" y="552.9" font-size="6.4" text-anchor="middle" >0.1</text>
<line x1="302.44" y1="540.75" x2="302.44" y2="542.35" stroke="#111" stroke-width="0.8"/>
<line x1="309.64" y1="540.75" x2="309.64" y2="543.75" stroke="#111" stroke-width="0.8"/>
<text x="309.64" y="552.9" font-size="6.4" text-anchor="middle" >1</text>
<line x1="329.12" y1="540.75" x2="329.12" y2="542.35" stroke="#111" stroke-width="0.8"/>
<line x1="336.32" y1="540.75" x2="336.32" y2="543.75" stroke="#111" stroke-width="0.8"/>
<text x="336.32" y="552.9" font-size="6.4" text-anchor="middle" >10</text>
<line x1="203" y1="530.5" x2="206" y2="530.5" stroke="#111" stroke-width="0.9"/>
<text x="199.6" y="533" font-size="6.4" text-anchor="end" >0</text>
<line x1="203" y1="504.15" x2="206" y2="504.15" stroke="#111" stroke-width="0.9"/>
<text x="199.6" y="506.65" font-size="6.4" text-anchor="end" >25</text>
<line x1="203" y1="477.8" x2="206" y2="477.8" stroke="#111" stroke-width="0.9"/>
<text x="199.6" y="480.3" font-size="6.4" text-anchor="end" >50</text>
<text transform="translate(187 504) rotate(-90)" font-size="8.6" class="h" text-anchor="middle" textLength="48" lengthAdjust="spacingAndGlyphs" fill="#222">CD25<tspan dy="-2.6" font-size="4.6">+</tspan><tspan dy="2.6"> T-cells (%)</tspan></text>
<text transform="translate(214.7 568.2) rotate(-90)" font-size="6.6" text-anchor="middle" textLength="42.2" lengthAdjust="spacingAndGlyphs" fill="#222">Solvent control</text>
<text x="272.5" y="564.4" font-size="8.3" text-anchor="middle" textLength="59.5" lengthAdjust="spacingAndGlyphs" class="h">Talquetamab (µg/mL)</text>
<text x="337.12" y="526.7" font-size="6.5" class="l" text-anchor="end" textLength="23.4" lengthAdjust="spacingAndGlyphs" fill="#222"><tspan font-style="italic">P</tspan>=0.4932</text>
<polyline points="224.9,515.54 226.61,515.45 228.32,515.34 230.03,515.22 231.73,515.08 233.44,514.93 235.15,514.75 236.86,514.55 238.57,514.32 240.28,514.07 241.99,513.78 243.69,513.46 245.4,513.1 247.11,512.7 248.82,512.26 250.53,511.77 252.24,511.23 253.94,510.64 255.65,510 257.36,509.3 259.07,508.55 260.78,507.76 262.49,506.91 264.2,506.02 265.9,505.1 267.61,504.15 269.32,503.17 271.03,502.18 272.74,501.19 274.45,500.2 276.16,499.22 277.86,498.27 279.57,497.35 281.28,496.46 282.99,495.62 284.7,494.83 286.41,494.08 288.12,493.39 289.82,492.75 291.53,492.16 293.24,491.63 294.95,491.14 296.66,490.7 298.37,490.3 300.08,489.94 301.78,489.63 303.49,489.34 305.2,489.09 306.91,488.86 308.62,488.67 310.33,488.49 312.03,488.34 313.74,488.2 315.45,488.08 317.16,487.97 318.87,487.88 320.58,487.8 322.29,487.73 323.99,487.67 325.7,487.61" fill="none" stroke="#aa052c" stroke-width="1.1"/>
<line x1="212.5" y1="516.5" x2="218.4" y2="516.5" stroke="#aa052c" stroke-width="1.1"/>
<path d="M212.5 515.07V517.47M210.6 515.07H214.4M210.6 517.47H214.4" stroke="#aa052c" stroke-width="0.8" fill="none" opacity="0.72"/>
<circle cx="212.5" cy="516.27" r="1.72" fill="#aa052c"/>
<path d="M232.46 513.7V516.1M230.56 513.7H234.36M230.56 516.1H234.36" stroke="#aa052c" stroke-width="0.8" fill="none" opacity="0.72"/>
<circle cx="232.46" cy="514.9" r="1.72" fill="#aa052c"/>
<path d="M251.11 510.13V513.13M249.21 510.13H253.01M249.21 513.13H253.01" stroke="#aa052c" stroke-width="0.8" fill="none" opacity="0.72"/>
<circle cx="251.11" cy="511.63" r="1.72" fill="#aa052c"/>
<path d="M269.76 499.89V505.89M267.86 499.89H271.66M267.86 505.89H271.66" stroke="#aa052c" stroke-width="0.8" fill="none" opacity="0.72"/>
<circle cx="269.76" cy="502.89" r="1.72" fill="#aa052c"/>
<path d="M288.41 489.4V497.4M286.51 489.4H290.31M286.51 497.4H290.31" stroke="#aa052c" stroke-width="0.8" fill="none" opacity="0.72"/>
<circle cx="288.41" cy="493.4" r="1.72" fill="#aa052c"/>
<path d="M307.05 484.55V492.55M305.15 484.55H308.95M305.15 492.55H308.95" stroke="#aa052c" stroke-width="0.8" fill="none" opacity="0.72"/>
<circle cx="307.05" cy="488.55" r="1.72" fill="#aa052c"/>
<path d="M325.7 483.81V491.81M323.8 483.81H327.6M323.8 491.81H327.6" stroke="#aa052c" stroke-width="0.8" fill="none" opacity="0.72"/>
<circle cx="325.7" cy="487.81" r="1.72" fill="#aa052c"/>
<polyline points="224.9,517.99 226.61,517.85 228.32,517.7 230.03,517.52 231.73,517.31 233.44,517.07 235.15,516.79 236.86,516.48 238.57,516.12 240.28,515.71 241.99,515.24 243.69,514.71 245.4,514.12 247.11,513.46 248.82,512.72 250.53,511.91 252.24,511.02 253.94,510.04 255.65,508.99 257.36,507.87 259.07,506.68 260.78,505.43 262.49,504.13 264.2,502.81 265.9,501.46 267.61,500.12 269.32,498.78 271.03,497.48 272.74,496.22 274.45,495.02 276.16,493.87 277.86,492.81 279.57,491.81 281.28,490.9 282.99,490.07 284.7,489.31 286.41,488.63 288.12,488.02 289.82,487.48 291.53,487 293.24,486.58 294.95,486.21 296.66,485.88 298.37,485.6 300.08,485.35 301.78,485.13 303.49,484.95 305.2,484.78 306.91,484.64 308.62,484.52 310.33,484.42 312.03,484.33 313.74,484.25 315.45,484.18 317.16,484.13 318.87,484.08 320.58,484.03 322.29,484 323.99,483.97 325.7,483.94" fill="none" stroke="#193878" stroke-width="1.1"/>
<line x1="212.5" y1="518.5" x2="218.4" y2="518.5" stroke="#193878" stroke-width="1.1"/>
<path d="M212.5 517.39V519.79M210.6 517.39H214.4M210.6 519.79H214.4" stroke="#193878" stroke-width="0.8" fill="none" opacity="0.72"/>
<circle cx="212.5" cy="518.59" r="1.72" fill="#193878"/>
<path d="M232.46 516.12V518.53M230.56 516.12H234.36M230.56 518.53H234.36" stroke="#193878" stroke-width="0.8" fill="none" opacity="0.72"/>
<circle cx="232.46" cy="517.33" r="1.72" fill="#193878"/>
<path d="M251.11 510.45V513.45M249.21 510.45H253.01M249.21 513.45H253.01" stroke="#193878" stroke-width="0.8" fill="none" opacity="0.72"/>
<circle cx="251.11" cy="511.95" r="1.72" fill="#193878"/>
<path d="M269.76 492.93V502.93M267.86 492.93H271.66M267.86 502.93H271.66" stroke="#193878" stroke-width="0.8" fill="none" opacity="0.72"/>
<circle cx="269.76" cy="497.93" r="1.72" fill="#193878"/>
<path d="M288.41 483.55V493.55M286.51 483.55H290.31M286.51 493.55H290.31" stroke="#193878" stroke-width="0.8" fill="none" opacity="0.72"/>
<circle cx="288.41" cy="488.55" r="1.72" fill="#193878"/>
<path d="M307.05 479.76V489.76M305.15 479.76H308.95M305.15 489.76H308.95" stroke="#193878" stroke-width="0.8" fill="none" opacity="0.72"/>
<circle cx="307.05" cy="484.76" r="1.72" fill="#193878"/>
<path d="M325.7 478.49V488.49M323.8 478.49H327.6M323.8 488.49H327.6" stroke="#193878" stroke-width="0.8" fill="none" opacity="0.72"/>
<circle cx="325.7" cy="483.49" r="1.72" fill="#193878"/>
<text x="445.4" y="462.4" font-size="6.5" text-anchor="middle" textLength="36.3" lengthAdjust="spacingAndGlyphs" fill="#222">PD-1<tspan dy="-2.7" font-size="4.2">+</tspan><tspan dy="2.7"> T-cells</tspan></text>
<line x1="380" y1="530.5" x2="512.22" y2="530.5" stroke="#555" stroke-width="0.8" stroke-dasharray="1 1"/>
<path d="M379 467.2V540.75H391.5" fill="none" stroke="#111" stroke-width="1.35"/>
<line x1="391.5" y1="538.05" x2="391.5" y2="544.15" stroke="#111" stroke-width="1"/>
<line x1="385.4" y1="540.75" x2="385.4" y2="543.75" stroke="#111" stroke-width="0.7"/>
<line x1="397.4" y1="540.75" x2="512.22" y2="540.75" stroke="#111" stroke-width="1.35"/>
<line x1="397.4" y1="538.35" x2="397.4" y2="543.85" stroke="#111" stroke-width="0.8"/>
<line x1="402.3" y1="540.75" x2="402.3" y2="543.75" stroke="#111" stroke-width="0.8"/>
<text x="402.3" y="552.9" font-size="6.4" text-anchor="middle" >0.001</text>
<line x1="421.85" y1="540.75" x2="421.85" y2="542.35" stroke="#111" stroke-width="0.8"/>
<line x1="429.08" y1="540.75" x2="429.08" y2="543.75" stroke="#111" stroke-width="0.8"/>
<text x="429.08" y="552.9" font-size="6.4" text-anchor="middle" >0.01</text>
<line x1="448.63" y1="540.75" x2="448.63" y2="542.35" stroke="#111" stroke-width="0.8"/>
<line x1="455.86" y1="540.75" x2="455.86" y2="543.75" stroke="#111" stroke-width="0.8"/>
<text x="455.86" y="552.9" font-size="6.4" text-anchor="middle" >0.1</text>
<line x1="475.41" y1="540.75" x2="475.41" y2="542.35" stroke="#111" stroke-width="0.8"/>
<line x1="482.64" y1="540.75" x2="482.64" y2="543.75" stroke="#111" stroke-width="0.8"/>
<text x="482.64" y="552.9" font-size="6.4" text-anchor="middle" >1</text>
<line x1="502.19" y1="540.75" x2="502.19" y2="542.35" stroke="#111" stroke-width="0.8"/>
<line x1="509.42" y1="540.75" x2="509.42" y2="543.75" stroke="#111" stroke-width="0.8"/>
<text x="509.42" y="552.9" font-size="6.4" text-anchor="middle" >10</text>
<line x1="376" y1="530.6" x2="379" y2="530.6" stroke="#111" stroke-width="0.9"/>
<text x="372.6" y="533.1" font-size="6.4" text-anchor="end" >0</text>
<line x1="376" y1="505.2" x2="379" y2="505.2" stroke="#111" stroke-width="0.9"/>
<text x="372.6" y="507.7" font-size="6.4" text-anchor="end" >10</text>
<line x1="376" y1="479.8" x2="379" y2="479.8" stroke="#111" stroke-width="0.9"/>
<text x="372.6" y="482.3" font-size="6.4" text-anchor="end" >20</text>
<text transform="translate(360 503.5) rotate(-90)" font-size="8.6" class="h" text-anchor="middle" textLength="54.3" lengthAdjust="spacingAndGlyphs" fill="#222">CD107a<tspan dy="-2.6" font-size="4.6">+</tspan><tspan dy="2.6"> T-cells (%)</tspan></text>
<text transform="translate(387.6 568.2) rotate(-90)" font-size="6.6" text-anchor="middle" textLength="42.2" lengthAdjust="spacingAndGlyphs" fill="#222">Solvent control</text>
<text x="445.8" y="564.4" font-size="8.3" text-anchor="middle" textLength="59.5" lengthAdjust="spacingAndGlyphs" class="h">Talquetamab (µg/mL)</text>
<text x="510.22" y="526.7" font-size="6.5" class="l" text-anchor="end" textLength="23.4" lengthAdjust="spacingAndGlyphs" fill="#222"><tspan font-style="italic">P</tspan>=0.2925</text>
<polyline points="398,502.87 399.71,502.81 401.42,502.75 403.12,502.68 404.83,502.59 406.54,502.5 408.25,502.39 409.95,502.27 411.66,502.13 413.37,501.98 415.08,501.81 416.79,501.62 418.49,501.4 420.2,501.17 421.91,500.91 423.62,500.63 425.33,500.32 427.03,499.98 428.74,499.62 430.45,499.24 432.16,498.84 433.86,498.42 435.57,497.98 437.28,497.53 438.99,497.07 440.7,496.61 442.4,496.14 444.11,495.69 445.82,495.24 447.53,494.81 449.24,494.39 450.94,494 452.65,493.62 454.36,493.27 456.07,492.95 457.77,492.65 459.48,492.37 461.19,492.12 462.9,491.9 464.61,491.69 466.31,491.51 468.02,491.34 469.73,491.2 471.44,491.07 473.15,490.95 474.85,490.85 476.56,490.76 478.27,490.68 479.98,490.61 481.68,490.55 483.39,490.49 485.1,490.45 486.81,490.4 488.52,490.37 490.22,490.34 491.93,490.31 493.64,490.29 495.35,490.27 497.06,490.25 498.76,490.23" fill="none" stroke="#aa052c" stroke-width="1.1"/>
<line x1="385.4" y1="503.5" x2="391.2" y2="503.5" stroke="#aa052c" stroke-width="1.1"/>
<path d="M385.4 502.48V504.88M383.5 502.48H387.3M383.5 504.88H387.3" stroke="#aa052c" stroke-width="0.8" fill="none" opacity="0.72"/>
<circle cx="385.4" cy="503.68" r="1.72" fill="#aa052c"/>
<path d="M405.17 499.15V505.15M403.27 499.15H407.07M403.27 505.15H407.07" stroke="#aa052c" stroke-width="0.8" fill="none" opacity="0.72"/>
<circle cx="405.17" cy="502.15" r="1.72" fill="#aa052c"/>
<path d="M423.89 497.37V503.37M421.99 497.37H425.79M421.99 503.37H425.79" stroke="#aa052c" stroke-width="0.8" fill="none" opacity="0.72"/>
<circle cx="423.89" cy="500.37" r="1.72" fill="#aa052c"/>
<path d="M442.61 493.56V499.56M440.71 493.56H444.51M440.71 499.56H444.51" stroke="#aa052c" stroke-width="0.8" fill="none" opacity="0.72"/>
<circle cx="442.61" cy="496.56" r="1.72" fill="#aa052c"/>
<path d="M461.33 487.74V495.74M459.43 487.74H463.23M459.43 495.74H463.23" stroke="#aa052c" stroke-width="0.8" fill="none" opacity="0.72"/>
<circle cx="461.33" cy="491.74" r="1.72" fill="#aa052c"/>
<path d="M480.04 485.96V493.96M478.14 485.96H481.94M478.14 493.96H481.94" stroke="#aa052c" stroke-width="0.8" fill="none" opacity="0.72"/>
<circle cx="480.04" cy="489.96" r="1.72" fill="#aa052c"/>
<path d="M498.76 486.98V494.98M496.86 486.98H500.66M496.86 494.98H500.66" stroke="#aa052c" stroke-width="0.8" fill="none" opacity="0.72"/>
<circle cx="498.76" cy="490.98" r="1.72" fill="#aa052c"/>
<polyline points="398,505.59 399.71,505.45 401.42,505.3 403.12,505.13 404.83,504.94 406.54,504.74 408.25,504.51 409.95,504.27 411.66,504.01 413.37,503.72 415.08,503.4 416.79,503.06 418.49,502.69 420.2,502.3 421.91,501.87 423.62,501.42 425.33,500.94 427.03,500.43 428.74,499.89 430.45,499.32 432.16,498.73 433.86,498.11 435.57,497.47 437.28,496.81 438.99,496.14 440.7,495.46 442.4,494.77 444.11,494.07 445.82,493.38 447.53,492.69 449.24,492.01 450.94,491.34 452.65,490.69 454.36,490.06 456.07,489.45 457.77,488.86 459.48,488.3 461.19,487.77 462.9,487.26 464.61,486.79 466.31,486.35 468.02,485.93 469.73,485.54 471.44,485.18 473.15,484.85 474.85,484.54 476.56,484.26 478.27,484 479.98,483.76 481.68,483.54 483.39,483.34 485.1,483.16 486.81,483 488.52,482.85 490.22,482.72 491.93,482.59 493.64,482.48 495.35,482.38 497.06,482.29 498.76,482.21" fill="none" stroke="#193878" stroke-width="1.1"/>
<line x1="385.4" y1="506.5" x2="391.2" y2="506.5" stroke="#193878" stroke-width="1.1"/>
<path d="M385.4 505.78V508.18M383.5 505.78H387.3M383.5 508.18H387.3" stroke="#193878" stroke-width="0.8" fill="none" opacity="0.72"/>
<circle cx="385.4" cy="506.98" r="1.72" fill="#193878"/>
<path d="M405.17 502.19V507.19M403.27 502.19H407.07M403.27 507.19H407.07" stroke="#193878" stroke-width="0.8" fill="none" opacity="0.72"/>
<circle cx="405.17" cy="504.69" r="1.72" fill="#193878"/>
<path d="M423.89 498.89V503.89M421.99 498.89H425.79M421.99 503.89H425.79" stroke="#193878" stroke-width="0.8" fill="none" opacity="0.72"/>
<circle cx="423.89" cy="501.39" r="1.72" fill="#193878"/>
<path d="M442.61 490.79V498.79M440.71 490.79H444.51M440.71 498.79H444.51" stroke="#193878" stroke-width="0.8" fill="none" opacity="0.72"/>
<circle cx="442.61" cy="494.79" r="1.72" fill="#193878"/>
<path d="M461.33 482.67V492.67M459.43 482.67H463.23M459.43 492.67H463.23" stroke="#193878" stroke-width="0.8" fill="none" opacity="0.72"/>
<circle cx="461.33" cy="487.67" r="1.72" fill="#193878"/>
<path d="M480.04 477.61V489.61M478.14 477.61H481.94M478.14 489.61H481.94" stroke="#193878" stroke-width="0.8" fill="none" opacity="0.72"/>
<circle cx="480.04" cy="483.61" r="1.72" fill="#193878"/>
<path d="M498.76 476.34V488.34M496.86 476.34H500.66M496.86 488.34H500.66" stroke="#193878" stroke-width="0.8" fill="none" opacity="0.72"/>
<circle cx="498.76" cy="482.34" r="1.72" fill="#193878"/>
</svg>
</body></html>
